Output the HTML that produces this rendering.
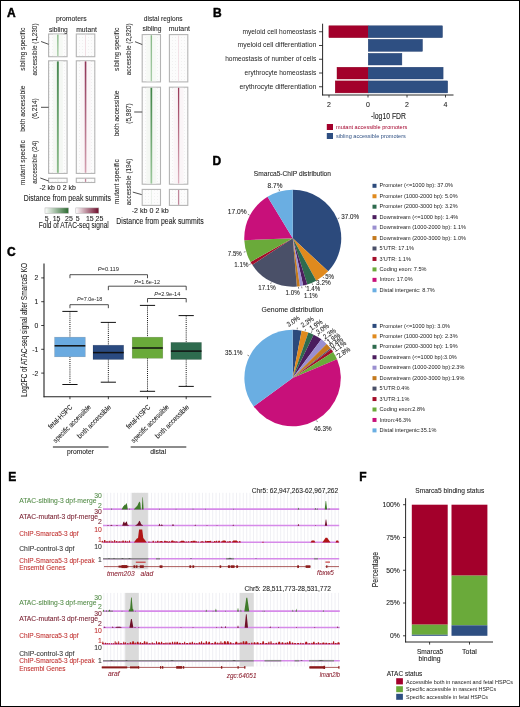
<!DOCTYPE html>
<html><head><meta charset="utf-8"><style>
html,body{margin:0;padding:0;background:#fff;}
svg{display:block;will-change:transform;}
text{font-family:"Liberation Sans", sans-serif;}
</style></head><body>
<svg width="520" height="707" viewBox="0 0 520 707">
<rect x="0" y="0" width="520" height="707" fill="#fff"/>
<text x="0" y="0" transform="translate(6.90 16.70)" font-size="12" fill="#000" font-weight="bold" stroke="#000" stroke-width="0.45" >A</text>
<text x="0" y="0" transform="translate(213.00 17.20)" font-size="12" fill="#000" font-weight="bold" stroke="#000" stroke-width="0.45" >B</text>
<text x="0" y="0" transform="translate(7.00 256.20)" font-size="12" fill="#000" font-weight="bold" stroke="#000" stroke-width="0.45" >C</text>
<text x="0" y="0" transform="translate(212.60 164.80)" font-size="12" fill="#000" font-weight="bold" stroke="#000" stroke-width="0.45" >D</text>
<text x="0" y="0" transform="translate(8.30 481.30)" font-size="12" fill="#000" font-weight="bold" stroke="#000" stroke-width="0.45" >E</text>
<text x="0" y="0" transform="translate(359.30 481.20)" font-size="12" fill="#000" font-weight="bold" stroke="#000" stroke-width="0.45" >F</text>
<defs><linearGradient id="gg" x1="0" x2="1"><stop offset="0" stop-color="#ffffff"/><stop offset="1" stop-color="#2b6a2f"/></linearGradient><linearGradient id="rg" x1="0" x2="1"><stop offset="0" stop-color="#ffffff"/><stop offset="1" stop-color="#6e0a2a"/></linearGradient><pattern id="dots" width="3" height="3" patternUnits="userSpaceOnUse"><rect width="3" height="3" fill="#fcfcfc"/><rect x="1" y="1" width="1" height="1" fill="#f1f1f1"/></pattern></defs>
<rect x="48.60" y="34.00" width="18.50" height="22.70" fill="url(#dots)" stroke="#b4b4b4" stroke-width="1.1"/>
<rect x="52.85" y="34.60" width="10" height="21.50" fill="#f6f9f5"/>
<defs><linearGradient id="vg1" x1="0" y1="0" x2="0" y2="1"><stop offset="0" stop-color="#86b886"/><stop offset="1" stop-color="#a8cca8"/></linearGradient></defs>
<rect x="57.15" y="34.60" width="1.40" height="21.50" fill="url(#vg1)"/>
<rect x="76.30" y="34.00" width="18.50" height="22.70" fill="url(#dots)" stroke="#b4b4b4" stroke-width="1.1"/>
<rect x="85.10" y="34.60" width="0.90" height="21.50" fill="#f0dde3"/>
<rect x="48.60" y="60.80" width="18.50" height="112.60" fill="url(#dots)" stroke="#b4b4b4" stroke-width="1.1"/>
<rect x="52.85" y="61.40" width="10" height="111.40" fill="#f4f7f3"/>
<defs><linearGradient id="vg2" x1="0" y1="0" x2="0" y2="1"><stop offset="0" stop-color="#478650"/><stop offset="1" stop-color="#8cbc8c"/></linearGradient></defs>
<rect x="56.90" y="61.40" width="1.90" height="111.40" fill="url(#vg2)"/>
<rect x="76.30" y="60.80" width="18.50" height="112.60" fill="url(#dots)" stroke="#b4b4b4" stroke-width="1.1"/>
<rect x="80.55" y="61.40" width="10" height="111.40" fill="#faf5f7"/>
<defs><linearGradient id="vg3" x1="0" y1="0" x2="0" y2="1"><stop offset="0" stop-color="#8f3355"/><stop offset="1" stop-color="#d3a0b0"/></linearGradient></defs>
<rect x="84.75" y="61.40" width="1.60" height="111.40" fill="url(#vg3)"/>
<rect x="48.60" y="178.20" width="18.50" height="4.30" fill="url(#dots)" stroke="#b4b4b4" stroke-width="1.1"/>
<rect x="57.45" y="178.80" width="0.80" height="3.10" fill="#e4ebe4"/>
<rect x="76.30" y="178.20" width="18.50" height="4.30" fill="url(#dots)" stroke="#b4b4b4" stroke-width="1.1"/>
<rect x="84.90" y="178.80" width="1.30" height="3.10" fill="#c0879b"/>
<rect x="142.20" y="34.60" width="18.30" height="47.30" fill="url(#dots)" stroke="#b4b4b4" stroke-width="1.1"/>
<rect x="146.35" y="35.20" width="10" height="46.10" fill="#f6f9f5"/>
<defs><linearGradient id="vg4" x1="0" y1="0" x2="0" y2="1"><stop offset="0" stop-color="#86b886"/><stop offset="1" stop-color="#a8cca8"/></linearGradient></defs>
<rect x="150.65" y="35.20" width="1.40" height="46.10" fill="url(#vg4)"/>
<rect x="169.40" y="34.60" width="18.40" height="47.30" fill="url(#dots)" stroke="#b4b4b4" stroke-width="1.1"/>
<rect x="178.15" y="35.20" width="0.90" height="46.10" fill="#f0dde3"/>
<rect x="142.20" y="87.20" width="18.30" height="97.00" fill="url(#dots)" stroke="#b4b4b4" stroke-width="1.1"/>
<rect x="146.35" y="87.80" width="10" height="95.80" fill="#f4f7f3"/>
<defs><linearGradient id="vg5" x1="0" y1="0" x2="0" y2="1"><stop offset="0" stop-color="#3f8446"/><stop offset="1" stop-color="#9cc89c"/></linearGradient></defs>
<rect x="150.50" y="87.80" width="1.70" height="95.80" fill="url(#vg5)"/>
<rect x="169.40" y="87.20" width="18.40" height="97.00" fill="url(#dots)" stroke="#b4b4b4" stroke-width="1.1"/>
<rect x="173.60" y="87.80" width="10" height="95.80" fill="#faf5f7"/>
<defs><linearGradient id="vg6" x1="0" y1="0" x2="0" y2="1"><stop offset="0" stop-color="#983a58"/><stop offset="1" stop-color="#dcb0be"/></linearGradient></defs>
<rect x="177.95" y="87.80" width="1.30" height="95.80" fill="url(#vg6)"/>
<rect x="142.20" y="189.40" width="18.30" height="16.00" fill="url(#dots)" stroke="#b4b4b4" stroke-width="1.1"/>
<rect x="150.95" y="190.00" width="0.80" height="14.80" fill="#e4ebe4"/>
<rect x="169.40" y="189.40" width="18.40" height="16.00" fill="url(#dots)" stroke="#b4b4b4" stroke-width="1.1"/>
<rect x="177.95" y="190.00" width="1.30" height="14.80" fill="#c0879b"/>
<text x="0" y="0" transform="translate(71.35 21.00) scale(1.0400 1)" font-size="6.6" fill="#2a2a2a" text-anchor="middle" stroke="#2a2a2a" stroke-width="0.08" >promoters</text>
<text x="0" y="0" transform="translate(58.40 31.50) scale(1.0047 1)" font-size="6.6" fill="#2a2a2a" text-anchor="middle" stroke="#2a2a2a" stroke-width="0.08" >sibling</text>
<text x="0" y="0" transform="translate(86.55 31.50) scale(1.0259 1)" font-size="6.6" fill="#2a2a2a" text-anchor="middle" stroke="#2a2a2a" stroke-width="0.08" >mutant</text>
<text x="0" y="0" transform="translate(163.20 21.00) scale(1.0029 1)" font-size="6.6" fill="#2a2a2a" text-anchor="middle" stroke="#2a2a2a" stroke-width="0.08" >distal regions</text>
<text x="0" y="0" transform="translate(151.90 31.40) scale(1.0154 1)" font-size="6.6" fill="#2a2a2a" text-anchor="middle" stroke="#2a2a2a" stroke-width="0.08" >sibling</text>
<text x="0" y="0" transform="translate(179.35 31.40) scale(1.0457 1)" font-size="6.6" fill="#2a2a2a" text-anchor="middle" stroke="#2a2a2a" stroke-width="0.08" >mutant</text>
<text x="0" y="0" transform="translate(25.10 49.20) rotate(-90) scale(0.9306 1)" font-size="7.2" fill="#2a2a2a" text-anchor="middle" stroke="#2a2a2a" stroke-width="0.08" >sibling specific</text>
<text x="0" y="0" transform="translate(36.60 49.45) rotate(-90) scale(0.8916 1)" font-size="7.2" fill="#2a2a2a" text-anchor="middle" stroke="#2a2a2a" stroke-width="0.08" >accessible (1,230)</text>
<text x="0" y="0" transform="translate(25.10 108.60) rotate(-90) scale(0.9309 1)" font-size="7.2" fill="#2a2a2a" text-anchor="middle" stroke="#2a2a2a" stroke-width="0.08" >both accessible</text>
<text x="0" y="0" transform="translate(36.60 108.60) rotate(-90) scale(0.9117 1)" font-size="7.2" fill="#2a2a2a" text-anchor="middle" stroke="#2a2a2a" stroke-width="0.08" >(6,214)</text>
<text x="0" y="0" transform="translate(25.10 162.70) rotate(-90) scale(0.9371 1)" font-size="7.2" fill="#2a2a2a" text-anchor="middle" stroke="#2a2a2a" stroke-width="0.08" >mutant specific</text>
<text x="0" y="0" transform="translate(36.60 162.25) rotate(-90) scale(0.8942 1)" font-size="7.2" fill="#2a2a2a" text-anchor="middle" stroke="#2a2a2a" stroke-width="0.08" >accessible (24)</text>
<text x="0" y="0" transform="translate(118.90 49.30) rotate(-90) scale(0.9349 1)" font-size="7.2" fill="#2a2a2a" text-anchor="middle" stroke="#2a2a2a" stroke-width="0.08" >sibling specific</text>
<text x="0" y="0" transform="translate(130.50 49.30) rotate(-90) scale(0.8865 1)" font-size="7.2" fill="#2a2a2a" text-anchor="middle" stroke="#2a2a2a" stroke-width="0.08" >accessible (2,920)</text>
<text x="0" y="0" transform="translate(118.90 113.45) rotate(-90) scale(0.9248 1)" font-size="7.2" fill="#2a2a2a" text-anchor="middle" stroke="#2a2a2a" stroke-width="0.08" >both accessible</text>
<text x="0" y="0" transform="translate(130.60 113.50) rotate(-90) scale(0.8942 1)" font-size="7.2" fill="#2a2a2a" text-anchor="middle" stroke="#2a2a2a" stroke-width="0.08" >(5,987)</text>
<text x="0" y="0" transform="translate(119.00 181.75) rotate(-90) scale(0.9392 1)" font-size="7.2" fill="#2a2a2a" text-anchor="middle" stroke="#2a2a2a" stroke-width="0.08" >mutant specific</text>
<text x="0" y="0" transform="translate(130.60 181.95) rotate(-90) scale(0.8870 1)" font-size="7.2" fill="#2a2a2a" text-anchor="middle" stroke="#2a2a2a" stroke-width="0.08" >accessible (194)</text>
<line x1="41.10" y1="41.50" x2="48.60" y2="44.30" stroke="#222" stroke-width="0.8" />
<line x1="41.00" y1="107.30" x2="48.60" y2="107.30" stroke="#222" stroke-width="0.8" />
<line x1="40.30" y1="178.00" x2="48.60" y2="181.00" stroke="#222" stroke-width="0.8" />
<line x1="135.00" y1="41.70" x2="142.20" y2="44.50" stroke="#222" stroke-width="0.8" />
<line x1="134.20" y1="112.00" x2="142.20" y2="112.00" stroke="#222" stroke-width="0.8" />
<line x1="132.80" y1="192.10" x2="141.70" y2="194.60" stroke="#222" stroke-width="0.8" />
<text x="0" y="0" transform="translate(57.60 189.50) scale(0.9952 1)" font-size="7.0" fill="#222" text-anchor="middle" stroke="#222" stroke-width="0.08" >-2 kb 0 2 kb</text>
<text x="0" y="0" transform="translate(150.25 212.60) scale(1.0143 1)" font-size="7.0" fill="#222" text-anchor="middle" stroke="#222" stroke-width="0.08" >-2 kb 0 2 kb</text>
<text x="0" y="0" transform="translate(67.40 200.70) scale(0.8229 1)" font-size="8.4" fill="#222" text-anchor="middle" stroke="#222" stroke-width="0.08" >Distance from peak summits</text>
<text x="0" y="0" transform="translate(160.00 223.50) scale(0.8248 1)" font-size="8.4" fill="#222" text-anchor="middle" stroke="#222" stroke-width="0.08" >Distance from peak summits</text>
<rect x="45.0" y="207.9" width="23.5" height="5.4" fill="url(#gg)" stroke="#b0b0b0" stroke-width="0.5"/>
<rect x="75.8" y="207.9" width="23.0" height="5.4" fill="url(#rg)" stroke="#b0b0b0" stroke-width="0.5"/>
<text x="0" y="0" transform="translate(46.80 220.70)" font-size="7.0" fill="#222" text-anchor="middle" stroke="#222" stroke-width="0.08" >5</text>
<text x="0" y="0" transform="translate(56.60 220.70)" font-size="7.0" fill="#222" text-anchor="middle" stroke="#222" stroke-width="0.08" >15</text>
<text x="0" y="0" transform="translate(69.00 220.70)" font-size="7.0" fill="#222" text-anchor="middle" stroke="#222" stroke-width="0.08" >25</text>
<text x="0" y="0" transform="translate(77.60 220.70)" font-size="7.0" fill="#222" text-anchor="middle" stroke="#222" stroke-width="0.08" >5</text>
<text x="0" y="0" transform="translate(89.80 220.70)" font-size="7.0" fill="#222" text-anchor="middle" stroke="#222" stroke-width="0.08" >15</text>
<text x="0" y="0" transform="translate(99.50 220.70)" font-size="7.0" fill="#222" text-anchor="middle" stroke="#222" stroke-width="0.08" >25</text>
<text x="0" y="0" transform="translate(73.75 227.70) scale(0.7847 1)" font-size="8.4" fill="#222" text-anchor="middle" stroke="#222" stroke-width="0.08" >Fold of ATAC-seq signal</text>
<rect x="328.90" y="25.80" width="39.30" height="11.90" fill="#a3002b" stroke="#8a0022" stroke-width="0.4" />
<rect x="368.20" y="25.80" width="74.30" height="11.90" fill="#2e4f82" stroke="#243f6e" stroke-width="0.4" />
<rect x="368.20" y="39.30" width="54.30" height="12.10" fill="#2e4f82" stroke="#243f6e" stroke-width="0.4" />
<rect x="368.20" y="53.30" width="33.70" height="11.70" fill="#2e4f82" stroke="#243f6e" stroke-width="0.4" />
<rect x="337.00" y="67.20" width="31.20" height="11.80" fill="#a3002b" stroke="#8a0022" stroke-width="0.4" />
<rect x="368.20" y="67.20" width="74.90" height="11.80" fill="#2e4f82" stroke="#243f6e" stroke-width="0.4" />
<rect x="335.20" y="80.90" width="33.00" height="12.00" fill="#a3002b" stroke="#8a0022" stroke-width="0.4" />
<rect x="368.20" y="80.90" width="79.50" height="12.00" fill="#2e4f82" stroke="#243f6e" stroke-width="0.4" />
<line x1="322.60" y1="23.70" x2="322.60" y2="95.40" stroke="#111" stroke-width="0.9" />
<line x1="322.20" y1="95.00" x2="453.50" y2="95.00" stroke="#111" stroke-width="0.9" />
<text x="0" y="0" transform="translate(316.30 33.65) scale(1.0567 1)" font-size="6.3" fill="#222" text-anchor="end" >myeloid cell homeostasis</text>
<line x1="319.00" y1="31.75" x2="322.60" y2="31.75" stroke="#111" stroke-width="0.8" />
<text x="0" y="0" transform="translate(316.30 47.40) scale(1.0888 1)" font-size="6.3" fill="#222" text-anchor="end" >myeloid cell differentiation</text>
<line x1="319.00" y1="45.50" x2="322.60" y2="45.50" stroke="#111" stroke-width="0.8" />
<text x="0" y="0" transform="translate(316.30 61.15) scale(1.0513 1)" font-size="6.3" fill="#222" text-anchor="end" >homeostasis of number of cells</text>
<line x1="319.00" y1="59.25" x2="322.60" y2="59.25" stroke="#111" stroke-width="0.8" />
<text x="0" y="0" transform="translate(316.30 74.90) scale(1.0515 1)" font-size="6.3" fill="#222" text-anchor="end" >erythrocyte homeostasis</text>
<line x1="319.00" y1="73.00" x2="322.60" y2="73.00" stroke="#111" stroke-width="0.8" />
<text x="0" y="0" transform="translate(316.30 88.65) scale(1.0903 1)" font-size="6.3" fill="#222" text-anchor="end" >erythrocyte differentiation</text>
<line x1="319.00" y1="86.75" x2="322.60" y2="86.75" stroke="#111" stroke-width="0.8" />
<line x1="329.00" y1="95.00" x2="329.00" y2="97.50" stroke="#111" stroke-width="0.8" />
<text x="0" y="0" transform="translate(329.00 106.90)" font-size="7.0" fill="#222" text-anchor="middle" stroke="#222" stroke-width="0.08" >2</text>
<line x1="368.00" y1="95.00" x2="368.00" y2="97.50" stroke="#111" stroke-width="0.8" />
<text x="0" y="0" transform="translate(368.00 106.90)" font-size="7.0" fill="#222" text-anchor="middle" stroke="#222" stroke-width="0.08" >0</text>
<line x1="407.00" y1="95.00" x2="407.00" y2="97.50" stroke="#111" stroke-width="0.8" />
<text x="0" y="0" transform="translate(407.00 106.90)" font-size="7.0" fill="#222" text-anchor="middle" stroke="#222" stroke-width="0.08" >2</text>
<line x1="445.50" y1="95.00" x2="445.50" y2="97.50" stroke="#111" stroke-width="0.8" />
<text x="0" y="0" transform="translate(445.50 106.90)" font-size="7.0" fill="#222" text-anchor="middle" stroke="#222" stroke-width="0.08" >4</text>
<text x="0" y="0" transform="translate(388.50 118.90) scale(0.7960 1)" font-size="8.6" fill="#222" text-anchor="middle" stroke="#222" stroke-width="0.08" >-log10 FDR</text>
<rect x="326.80" y="124.00" width="6.20" height="6.00" fill="#a3002b" />
<rect x="326.80" y="133.00" width="6.20" height="6.00" fill="#2e4f82" />
<text x="0" y="0" transform="translate(336.00 129.30) scale(0.9643 1)" font-size="5.8" fill="#a3002b" >mutant accessible promoters</text>
<text x="0" y="0" transform="translate(336.00 138.30) scale(0.9608 1)" font-size="5.8" fill="#2e4f82" >sibling accessible promoters</text>
<line x1="44.00" y1="263.50" x2="44.00" y2="397.20" stroke="#222" stroke-width="1.1" />
<line x1="43.60" y1="396.70" x2="211.30" y2="396.70" stroke="#222" stroke-width="1.15" />
<line x1="41.20" y1="277.90" x2="44.00" y2="277.90" stroke="#111" stroke-width="0.8" />
<text x="0" y="0" transform="translate(38.40 280.30)" font-size="6.8" fill="#222" text-anchor="end" stroke="#222" stroke-width="0.08" >2</text>
<line x1="41.20" y1="301.70" x2="44.00" y2="301.70" stroke="#111" stroke-width="0.8" />
<text x="0" y="0" transform="translate(38.40 304.10)" font-size="6.8" fill="#222" text-anchor="end" stroke="#222" stroke-width="0.08" >1</text>
<line x1="41.20" y1="325.50" x2="44.00" y2="325.50" stroke="#111" stroke-width="0.8" />
<text x="0" y="0" transform="translate(38.40 327.90)" font-size="6.8" fill="#222" text-anchor="end" stroke="#222" stroke-width="0.08" >0</text>
<line x1="41.20" y1="349.30" x2="44.00" y2="349.30" stroke="#111" stroke-width="0.8" />
<text x="0" y="0" transform="translate(38.40 351.70)" font-size="6.8" fill="#222" text-anchor="end" stroke="#222" stroke-width="0.08" >-1</text>
<line x1="41.20" y1="373.10" x2="44.00" y2="373.10" stroke="#111" stroke-width="0.8" />
<text x="0" y="0" transform="translate(38.40 375.50)" font-size="6.8" fill="#222" text-anchor="end" stroke="#222" stroke-width="0.08" >-2</text>
<text x="0" y="0" transform="translate(27.10 329.90) rotate(-90) scale(0.6820 1)" font-size="9.6" fill="#222" text-anchor="middle" stroke="#222" stroke-width="0.08" >Log2FC of ATAC-seq signal after Smarca5 KO</text>
<line x1="69.95" y1="311.40" x2="69.95" y2="337.20" stroke="#111" stroke-width="1.0" stroke-dasharray="1,1.1"/>
<line x1="69.95" y1="356.80" x2="69.95" y2="384.50" stroke="#111" stroke-width="1.0" stroke-dasharray="1,1.1"/>
<line x1="62.35" y1="311.40" x2="77.55" y2="311.40" stroke="#111" stroke-width="1.0" />
<line x1="62.35" y1="384.50" x2="77.55" y2="384.50" stroke="#111" stroke-width="1.0" />
<rect x="54.60" y="337.20" width="30.70" height="19.60" fill="#6aaae0" stroke="#00000030" stroke-width="0.6" />
<line x1="54.60" y1="345.80" x2="85.30" y2="345.80" stroke="#111" stroke-width="1.5" />
<line x1="69.95" y1="396.50" x2="69.95" y2="399.20" stroke="#111" stroke-width="0.8" />
<line x1="108.35" y1="322.40" x2="108.35" y2="345.20" stroke="#111" stroke-width="1.0" stroke-dasharray="1,1.1"/>
<line x1="108.35" y1="359.50" x2="108.35" y2="382.20" stroke="#111" stroke-width="1.0" stroke-dasharray="1,1.1"/>
<line x1="100.75" y1="322.40" x2="115.95" y2="322.40" stroke="#111" stroke-width="1.0" />
<line x1="100.75" y1="382.20" x2="115.95" y2="382.20" stroke="#111" stroke-width="1.0" />
<rect x="93.00" y="345.20" width="30.70" height="14.30" fill="#2a4a80" stroke="#00000030" stroke-width="0.6" />
<line x1="93.00" y1="352.60" x2="123.70" y2="352.60" stroke="#111" stroke-width="1.5" />
<line x1="108.35" y1="396.50" x2="108.35" y2="399.20" stroke="#111" stroke-width="0.8" />
<line x1="147.50" y1="305.40" x2="147.50" y2="337.20" stroke="#111" stroke-width="1.0" stroke-dasharray="1,1.1"/>
<line x1="147.50" y1="358.30" x2="147.50" y2="391.30" stroke="#111" stroke-width="1.0" stroke-dasharray="1,1.1"/>
<line x1="139.90" y1="305.40" x2="155.10" y2="305.40" stroke="#111" stroke-width="1.0" />
<line x1="139.90" y1="391.30" x2="155.10" y2="391.30" stroke="#111" stroke-width="1.0" />
<rect x="132.20" y="337.20" width="30.60" height="21.10" fill="#6aaa3a" stroke="#00000030" stroke-width="0.6" />
<line x1="132.20" y1="348.00" x2="162.80" y2="348.00" stroke="#111" stroke-width="1.5" />
<line x1="147.50" y1="396.50" x2="147.50" y2="399.20" stroke="#111" stroke-width="0.8" />
<line x1="186.20" y1="315.60" x2="186.20" y2="342.40" stroke="#111" stroke-width="1.0" stroke-dasharray="1,1.1"/>
<line x1="186.20" y1="359.50" x2="186.20" y2="386.40" stroke="#111" stroke-width="1.0" stroke-dasharray="1,1.1"/>
<line x1="178.60" y1="315.60" x2="193.80" y2="315.60" stroke="#111" stroke-width="1.0" />
<line x1="178.60" y1="386.40" x2="193.80" y2="386.40" stroke="#111" stroke-width="1.0" />
<rect x="170.90" y="342.40" width="30.60" height="17.10" fill="#2e6b4e" stroke="#00000030" stroke-width="0.6" />
<line x1="170.90" y1="351.10" x2="201.50" y2="351.10" stroke="#111" stroke-width="1.5" />
<line x1="186.20" y1="396.50" x2="186.20" y2="399.20" stroke="#111" stroke-width="0.8" />
<path d="M69.95,278.20 V274.70 H147.50 V278.20" fill="none" stroke="#222" stroke-width="0.8"/>
<text x="0" y="0" transform="translate(108.30 271.20) scale(1.0289 1)" font-size="5.6" fill="#222" text-anchor="middle" ><tspan font-style="italic">P</tspan>=0.119</text>
<path d="M108.35,290.20 V286.20 H186.20 V290.20" fill="none" stroke="#222" stroke-width="0.8"/>
<text x="0" y="0" transform="translate(147.10 283.50) scale(0.9923 1)" font-size="5.6" fill="#222" text-anchor="middle" ><tspan font-style="italic">P</tspan>=1.6e-12</text>
<path d="M147.50,302.40 V298.50 H186.20 V302.40" fill="none" stroke="#222" stroke-width="0.8"/>
<text x="0" y="0" transform="translate(167.25 295.50) scale(1.0039 1)" font-size="5.6" fill="#222" text-anchor="middle" ><tspan font-style="italic">P</tspan>=2.9e-14</text>
<path d="M69.95,308.20 V304.70 H108.35 V308.20" fill="none" stroke="#222" stroke-width="0.8"/>
<text x="0" y="0" transform="translate(89.60 300.80) scale(0.9769 1)" font-size="5.6" fill="#222" text-anchor="middle" ><tspan font-style="italic">P</tspan>=7.0e-18</text>
<text x="0" y="0" transform="translate(72.90 407.60) rotate(-45) scale(0.8608 1)" font-size="7.2" fill="#222" text-anchor="end" stroke="#222" stroke-width="0.08" >fetal-HSPC</text>
<text x="0" y="0" transform="translate(91.50 407.60) rotate(-45) scale(0.8469 1)" font-size="7.2" fill="#222" text-anchor="end" stroke="#222" stroke-width="0.08" >specific accessible</text>
<text x="0" y="0" transform="translate(111.50 407.60) rotate(-45) scale(0.8966 1)" font-size="7.2" fill="#222" text-anchor="end" stroke="#222" stroke-width="0.08" >both accessible</text>
<text x="0" y="0" transform="translate(150.90 407.60) rotate(-45) scale(0.8608 1)" font-size="7.2" fill="#222" text-anchor="end" stroke="#222" stroke-width="0.08" >fetal-HSPC</text>
<text x="0" y="0" transform="translate(169.50 407.60) rotate(-45) scale(0.8469 1)" font-size="7.2" fill="#222" text-anchor="end" stroke="#222" stroke-width="0.08" >specific accessible</text>
<text x="0" y="0" transform="translate(189.50 407.60) rotate(-45) scale(0.8966 1)" font-size="7.2" fill="#222" text-anchor="end" stroke="#222" stroke-width="0.08" >both accessible</text>
<line x1="52.90" y1="446.90" x2="108.50" y2="446.90" stroke="#666" stroke-width="1.5" />
<line x1="130.70" y1="446.90" x2="186.30" y2="446.90" stroke="#666" stroke-width="1.5" />
<text x="0" y="0" transform="translate(80.40 454.00) scale(0.9639 1)" font-size="7.0" fill="#222" text-anchor="middle" stroke="#222" stroke-width="0.08" >promoter</text>
<text x="0" y="0" transform="translate(158.20 454.00) scale(0.9791 1)" font-size="7.0" fill="#222" text-anchor="middle" stroke="#222" stroke-width="0.08" >distal</text>
<path d="M292.75,238.20 L292.75,189.70 A48.5,48.5 0 0 1 328.18,271.32 Z" fill="#2c4a7c"/>
<path d="M292.75,238.20 L328.18,271.32 A48.5,48.5 0 0 1 316.23,280.64 Z" fill="#e08a1e"/>
<path d="M292.75,238.20 L316.23,280.64 A48.5,48.5 0 0 1 307.29,284.47 Z" fill="#2e6b4e"/>
<path d="M292.75,238.20 L307.29,284.47 A48.5,48.5 0 0 1 303.17,285.57 Z" fill="#4b1d5e"/>
<path d="M292.75,238.20 L303.17,285.57 A48.5,48.5 0 0 1 299.88,286.17 Z" fill="#9a8fd0"/>
<path d="M292.75,238.20 L299.88,286.17 A48.5,48.5 0 0 1 296.85,286.53 Z" fill="#c47a1e"/>
<path d="M292.75,238.20 L296.85,286.53 A48.5,48.5 0 0 1 252.24,264.87 Z" fill="#4a5068"/>
<path d="M292.75,238.20 L252.24,264.87 A48.5,48.5 0 0 1 250.50,262.01 Z" fill="#a30e2a"/>
<path d="M292.75,238.20 L250.50,262.01 A48.5,48.5 0 0 1 244.29,240.25 Z" fill="#6aaa3a"/>
<path d="M292.75,238.20 L244.29,240.25 A48.5,48.5 0 0 1 267.56,196.75 Z" fill="#c8107a"/>
<path d="M292.75,238.20 L267.56,196.75 A48.5,48.5 0 0 1 292.75,189.70 Z" fill="#6aaee2"/>
<path d="M292.60,378.00 L292.60,329.80 A48.2,48.2 0 0 1 301.62,330.65 Z" fill="#2c4a7c"/>
<path d="M292.60,378.00 L301.62,330.65 A48.2,48.2 0 0 1 308.34,332.44 Z" fill="#e08a1e"/>
<path d="M292.60,378.00 L308.34,332.44 A48.2,48.2 0 0 1 313.65,334.64 Z" fill="#2e6b4e"/>
<path d="M292.60,378.00 L313.65,334.64 A48.2,48.2 0 0 1 321.39,339.35 Z" fill="#4b1d5e"/>
<path d="M292.60,378.00 L321.39,339.35 A48.2,48.2 0 0 1 326.66,343.89 Z" fill="#9a8fd0"/>
<path d="M292.60,378.00 L326.66,343.89 A48.2,48.2 0 0 1 330.47,348.18 Z" fill="#c47a1e"/>
<path d="M292.60,378.00 L330.47,348.18 A48.2,48.2 0 0 1 331.21,349.15 Z" fill="#4a5068"/>
<path d="M292.60,378.00 L331.21,349.15 A48.2,48.2 0 0 1 333.11,351.88 Z" fill="#a30e2a"/>
<path d="M292.60,378.00 L333.11,351.88 A48.2,48.2 0 0 1 337.05,359.36 Z" fill="#6aaa3a"/>
<path d="M292.60,378.00 L337.05,359.36 A48.2,48.2 0 0 1 253.72,406.49 Z" fill="#c8107a"/>
<path d="M292.60,378.00 L253.72,406.49 A48.2,48.2 0 0 1 292.60,329.80 Z" fill="#6aaee2"/>
<line x1="337.79" y1="218.65" x2="339.44" y2="217.93" stroke="#333" stroke-width="0.6" />
<line x1="322.94" y1="276.92" x2="324.05" y2="278.34" stroke="#333" stroke-width="0.6" />
<line x1="312.09" y1="283.33" x2="312.80" y2="284.99" stroke="#333" stroke-width="0.6" />
<line x1="305.40" y1="285.64" x2="305.86" y2="287.38" stroke="#333" stroke-width="0.6" />
<line x1="301.64" y1="286.49" x2="301.96" y2="288.26" stroke="#333" stroke-width="0.6" />
<line x1="298.44" y1="286.97" x2="298.65" y2="288.76" stroke="#333" stroke-width="0.6" />
<line x1="271.31" y1="282.37" x2="270.52" y2="283.99" stroke="#333" stroke-width="0.6" />
<line x1="250.83" y1="263.77" x2="249.29" y2="264.70" stroke="#333" stroke-width="0.6" />
<line x1="245.53" y1="251.66" x2="243.80" y2="252.16" stroke="#333" stroke-width="0.6" />
<line x1="249.45" y1="215.04" x2="247.87" y2="214.19" stroke="#333" stroke-width="0.6" />
<line x1="279.51" y1="190.92" x2="279.02" y2="189.19" stroke="#333" stroke-width="0.6" />
<line x1="297.19" y1="329.42" x2="297.36" y2="327.62" stroke="#333" stroke-width="0.6" />
<line x1="305.17" y1="330.85" x2="305.63" y2="329.11" stroke="#333" stroke-width="0.6" />
<line x1="311.26" y1="332.91" x2="311.95" y2="331.24" stroke="#333" stroke-width="0.6" />
<line x1="317.94" y1="336.30" x2="318.88" y2="334.76" stroke="#333" stroke-width="0.6" />
<line x1="324.50" y1="341.07" x2="325.68" y2="339.71" stroke="#333" stroke-width="0.6" />
<line x1="329.08" y1="345.58" x2="330.42" y2="344.39" stroke="#333" stroke-width="0.6" />
<line x1="331.32" y1="348.30" x2="332.75" y2="347.20" stroke="#333" stroke-width="0.6" />
<line x1="332.67" y1="350.15" x2="334.15" y2="349.13" stroke="#333" stroke-width="0.6" />
<line x1="335.77" y1="355.25" x2="337.37" y2="354.41" stroke="#333" stroke-width="0.6" />
<line x1="316.62" y1="420.48" x2="317.51" y2="422.04" stroke="#333" stroke-width="0.6" />
<line x1="249.07" y1="355.93" x2="247.47" y2="355.12" stroke="#333" stroke-width="0.6" />
<text x="0" y="0" transform="translate(292.40 176.20) scale(0.9887 1)" font-size="6.7" fill="#222" text-anchor="middle" stroke="#222" stroke-width="0.08" >Smarca5-ChIP distribution</text>
<text x="0" y="0" transform="translate(292.50 311.60) scale(1.0340 1)" font-size="6.7" fill="#222" text-anchor="middle" stroke="#222" stroke-width="0.08" >Genome distribution</text>
<text x="0" y="0" transform="translate(350.10 219.10) scale(0.9512 1)" font-size="6.6" fill="#222" text-anchor="middle" stroke="#222" stroke-width="0.08" >37.0%</text>
<text x="0" y="0" transform="translate(275.00 187.80) scale(0.9838 1)" font-size="6.6" fill="#222" text-anchor="middle" stroke="#222" stroke-width="0.08" >8.7%</text>
<text x="0" y="0" transform="translate(237.25 213.50) scale(1.0099 1)" font-size="6.6" fill="#222" text-anchor="middle" stroke="#222" stroke-width="0.08" >17.0%</text>
<text x="0" y="0" transform="translate(234.80 255.70) scale(0.9306 1)" font-size="6.6" fill="#222" text-anchor="middle" stroke="#222" stroke-width="0.08" >7.5%</text>
<text x="0" y="0" transform="translate(241.35 267.10) scale(0.9373 1)" font-size="6.6" fill="#222" text-anchor="middle" stroke="#222" stroke-width="0.08" >1.1%</text>
<text x="0" y="0" transform="translate(267.00 290.00) scale(0.9405 1)" font-size="6.6" fill="#222" text-anchor="middle" stroke="#222" stroke-width="0.08" >17.1%</text>
<text x="0" y="0" transform="translate(292.65 294.90) scale(0.9373 1)" font-size="6.6" fill="#222" text-anchor="middle" stroke="#222" stroke-width="0.08" >1.0%</text>
<text x="0" y="0" transform="translate(310.75 297.50) scale(0.9107 1)" font-size="6.6" fill="#222" text-anchor="middle" stroke="#222" stroke-width="0.08" >1.1%</text>
<text x="0" y="0" transform="translate(313.25 291.00) scale(0.9373 1)" font-size="6.6" fill="#222" text-anchor="middle" stroke="#222" stroke-width="0.08" >1.4%</text>
<text x="0" y="0" transform="translate(323.35 285.40) scale(0.9772 1)" font-size="6.6" fill="#222" text-anchor="middle" stroke="#222" stroke-width="0.08" >3.2%</text>
<text x="0" y="0" transform="translate(329.60 278.90) scale(0.9225 1)" font-size="6.6" fill="#222" text-anchor="middle" stroke="#222" stroke-width="0.08" >5%</text>
<text x="0" y="0" transform="translate(233.75 354.80) scale(0.9351 1)" font-size="6.6" fill="#222" text-anchor="middle" stroke="#222" stroke-width="0.08" >35.1%</text>
<text x="0" y="0" transform="translate(322.70 430.70) scale(0.9618 1)" font-size="6.6" fill="#222" text-anchor="middle" stroke="#222" stroke-width="0.08" >46.3%</text>
<text x="0" y="0" transform="translate(288.80 327.00) rotate(-34) scale(0.8775 1)" font-size="7.0" fill="#222" stroke="#222" stroke-width="0.08" >3.0%</text>
<text x="0" y="0" transform="translate(302.70 327.80) rotate(-34) scale(0.8775 1)" font-size="7.0" fill="#222" stroke="#222" stroke-width="0.08" >2.3%</text>
<text x="0" y="0" transform="translate(311.40 330.80) rotate(-34) scale(0.8775 1)" font-size="7.0" fill="#222" stroke="#222" stroke-width="0.08" >1.9%</text>
<text x="0" y="0" transform="translate(318.00 334.80) rotate(-34) scale(0.8775 1)" font-size="7.0" fill="#222" stroke="#222" stroke-width="0.08" >3.0%</text>
<text x="0" y="0" transform="translate(324.90 339.50) rotate(-34) scale(0.8775 1)" font-size="7.0" fill="#222" stroke="#222" stroke-width="0.08" >2.3%</text>
<text x="0" y="0" transform="translate(329.10 344.30) rotate(-34) scale(0.8775 1)" font-size="7.0" fill="#222" stroke="#222" stroke-width="0.08" >1.9%</text>
<text x="0" y="0" transform="translate(332.00 348.30) rotate(-34) scale(0.8775 1)" font-size="7.0" fill="#222" stroke="#222" stroke-width="0.08" >0.4%</text>
<text x="0" y="0" transform="translate(335.20 352.00) rotate(-34) scale(0.8775 1)" font-size="7.0" fill="#222" stroke="#222" stroke-width="0.08" >1.1%</text>
<text x="0" y="0" transform="translate(339.20 358.20) rotate(-34) scale(0.8775 1)" font-size="7.0" fill="#222" stroke="#222" stroke-width="0.08" >2.8%</text>
<rect x="372.50" y="183.80" width="4.00" height="4.00" fill="#2c4a7c" />
<text x="0" y="0" transform="translate(379.60 187.40)" font-size="5.56" fill="#222" >Promoter (&lt;=1000 bp): 37.0%</text>
<rect x="372.50" y="194.25" width="4.00" height="4.00" fill="#e08a1e" />
<text x="0" y="0" transform="translate(379.60 197.85)" font-size="5.56" fill="#222" >Promoter (1000-2000 bp): 5.0%</text>
<rect x="372.50" y="204.70" width="4.00" height="4.00" fill="#2e6b4e" />
<text x="0" y="0" transform="translate(379.60 208.30)" font-size="5.56" fill="#222" >Promoter (2000-3000 bp): 3.2%</text>
<rect x="372.50" y="215.15" width="4.00" height="4.00" fill="#4b1d5e" />
<text x="0" y="0" transform="translate(379.60 218.75)" font-size="5.56" fill="#222" >Downstream (&lt;=1000 bp): 1.4%</text>
<rect x="372.50" y="225.60" width="4.00" height="4.00" fill="#9a8fd0" />
<text x="0" y="0" transform="translate(379.60 229.20)" font-size="5.56" fill="#222" >Downstream (1000-2000 bp): 1.1%</text>
<rect x="372.50" y="236.05" width="4.00" height="4.00" fill="#c47a1e" />
<text x="0" y="0" transform="translate(379.60 239.65)" font-size="5.56" fill="#222" >Downstream (2000-3000 bp): 1.0%</text>
<rect x="372.50" y="246.50" width="4.00" height="4.00" fill="#4a5068" />
<text x="0" y="0" transform="translate(379.60 250.10)" font-size="5.56" fill="#222" >5'UTR: 17.1%</text>
<rect x="372.50" y="256.95" width="4.00" height="4.00" fill="#a30e2a" />
<text x="0" y="0" transform="translate(379.60 260.55)" font-size="5.56" fill="#222" >3'UTR: 1.1%</text>
<rect x="372.50" y="267.40" width="4.00" height="4.00" fill="#6aaa3a" />
<text x="0" y="0" transform="translate(379.60 271.00)" font-size="5.56" fill="#222" >Coding exon: 7.5%</text>
<rect x="372.50" y="277.85" width="4.00" height="4.00" fill="#c8107a" />
<text x="0" y="0" transform="translate(379.60 281.45)" font-size="5.56" fill="#222" >Intron: 17.0%</text>
<rect x="372.50" y="288.30" width="4.00" height="4.00" fill="#6aaee2" />
<text x="0" y="0" transform="translate(379.60 291.90)" font-size="5.56" fill="#222" >Distal intergenic: 8.7%</text>
<rect x="372.50" y="323.90" width="4.00" height="4.00" fill="#2c4a7c" />
<text x="0" y="0" transform="translate(379.60 327.50)" font-size="5.56" fill="#222" >Promoter (&lt;=1000 bp): 3.0%</text>
<rect x="372.50" y="334.35" width="4.00" height="4.00" fill="#e08a1e" />
<text x="0" y="0" transform="translate(379.60 337.95)" font-size="5.56" fill="#222" >Promoter (1000-2000 bp): 2.3%</text>
<rect x="372.50" y="344.80" width="4.00" height="4.00" fill="#2e6b4e" />
<text x="0" y="0" transform="translate(379.60 348.40)" font-size="5.56" fill="#222" >Promoter (2000-3000 bp): 1.9%</text>
<rect x="372.50" y="355.25" width="4.00" height="4.00" fill="#4b1d5e" />
<text x="0" y="0" transform="translate(379.60 358.85)" font-size="5.56" fill="#222" >Downstream (&lt;=1000 bp):3.0%</text>
<rect x="372.50" y="365.70" width="4.00" height="4.00" fill="#9a8fd0" />
<text x="0" y="0" transform="translate(379.60 369.30)" font-size="5.56" fill="#222" >Downstream (1000-2000 bp):2.3%</text>
<rect x="372.50" y="376.15" width="4.00" height="4.00" fill="#c47a1e" />
<text x="0" y="0" transform="translate(379.60 379.75)" font-size="5.56" fill="#222" >Downstream (2000-3000 bp):1.9%</text>
<rect x="372.50" y="386.60" width="4.00" height="4.00" fill="#4a5068" />
<text x="0" y="0" transform="translate(379.60 390.20)" font-size="5.56" fill="#222" >5'UTR:0.4%</text>
<rect x="372.50" y="397.05" width="4.00" height="4.00" fill="#a30e2a" />
<text x="0" y="0" transform="translate(379.60 400.65)" font-size="5.56" fill="#222" >3'UTR:1.1%</text>
<rect x="372.50" y="407.50" width="4.00" height="4.00" fill="#6aaa3a" />
<text x="0" y="0" transform="translate(379.60 411.10)" font-size="5.56" fill="#222" >Coding exon:2.8%</text>
<rect x="372.50" y="417.95" width="4.00" height="4.00" fill="#c8107a" />
<text x="0" y="0" transform="translate(379.60 421.55)" font-size="5.56" fill="#222" >Intron:46.3%</text>
<rect x="372.50" y="428.40" width="4.00" height="4.00" fill="#6aaee2" />
<text x="0" y="0" transform="translate(379.60 432.00)" font-size="5.56" fill="#222" >Distal intergenic:35.1%</text>
<line x1="103.90" y1="492.80" x2="103.90" y2="569.30" stroke="#eeeef3" stroke-width="0.9" />
<line x1="107.30" y1="492.80" x2="107.30" y2="569.30" stroke="#eeeef3" stroke-width="0.9" />
<line x1="110.70" y1="492.80" x2="110.70" y2="569.30" stroke="#eeeef3" stroke-width="0.9" />
<line x1="114.10" y1="492.80" x2="114.10" y2="569.30" stroke="#eeeef3" stroke-width="0.9" />
<line x1="117.50" y1="492.80" x2="117.50" y2="569.30" stroke="#eeeef3" stroke-width="0.9" />
<line x1="120.90" y1="492.80" x2="120.90" y2="569.30" stroke="#eeeef3" stroke-width="0.9" />
<line x1="124.30" y1="492.80" x2="124.30" y2="569.30" stroke="#eeeef3" stroke-width="0.9" />
<line x1="127.70" y1="492.80" x2="127.70" y2="569.30" stroke="#eeeef3" stroke-width="0.9" />
<line x1="131.10" y1="492.80" x2="131.10" y2="569.30" stroke="#eeeef3" stroke-width="0.9" />
<line x1="134.50" y1="492.80" x2="134.50" y2="569.30" stroke="#eeeef3" stroke-width="0.9" />
<line x1="137.90" y1="492.80" x2="137.90" y2="569.30" stroke="#eeeef3" stroke-width="0.9" />
<line x1="141.30" y1="492.80" x2="141.30" y2="569.30" stroke="#eeeef3" stroke-width="0.9" />
<line x1="144.70" y1="492.80" x2="144.70" y2="569.30" stroke="#eeeef3" stroke-width="0.9" />
<line x1="148.10" y1="492.80" x2="148.10" y2="569.30" stroke="#eeeef3" stroke-width="0.9" />
<line x1="151.50" y1="492.80" x2="151.50" y2="569.30" stroke="#eeeef3" stroke-width="0.9" />
<line x1="154.90" y1="492.80" x2="154.90" y2="569.30" stroke="#eeeef3" stroke-width="0.9" />
<line x1="158.30" y1="492.80" x2="158.30" y2="569.30" stroke="#eeeef3" stroke-width="0.9" />
<line x1="161.70" y1="492.80" x2="161.70" y2="569.30" stroke="#eeeef3" stroke-width="0.9" />
<line x1="165.10" y1="492.80" x2="165.10" y2="569.30" stroke="#eeeef3" stroke-width="0.9" />
<line x1="168.50" y1="492.80" x2="168.50" y2="569.30" stroke="#eeeef3" stroke-width="0.9" />
<line x1="171.90" y1="492.80" x2="171.90" y2="569.30" stroke="#eeeef3" stroke-width="0.9" />
<line x1="175.30" y1="492.80" x2="175.30" y2="569.30" stroke="#eeeef3" stroke-width="0.9" />
<line x1="178.70" y1="492.80" x2="178.70" y2="569.30" stroke="#eeeef3" stroke-width="0.9" />
<line x1="182.10" y1="492.80" x2="182.10" y2="569.30" stroke="#eeeef3" stroke-width="0.9" />
<line x1="185.50" y1="492.80" x2="185.50" y2="569.30" stroke="#eeeef3" stroke-width="0.9" />
<line x1="188.90" y1="492.80" x2="188.90" y2="569.30" stroke="#eeeef3" stroke-width="0.9" />
<line x1="192.30" y1="492.80" x2="192.30" y2="569.30" stroke="#eeeef3" stroke-width="0.9" />
<line x1="195.70" y1="492.80" x2="195.70" y2="569.30" stroke="#eeeef3" stroke-width="0.9" />
<line x1="199.10" y1="492.80" x2="199.10" y2="569.30" stroke="#eeeef3" stroke-width="0.9" />
<line x1="202.50" y1="492.80" x2="202.50" y2="569.30" stroke="#eeeef3" stroke-width="0.9" />
<line x1="205.90" y1="492.80" x2="205.90" y2="569.30" stroke="#eeeef3" stroke-width="0.9" />
<line x1="209.30" y1="492.80" x2="209.30" y2="569.30" stroke="#eeeef3" stroke-width="0.9" />
<line x1="212.70" y1="492.80" x2="212.70" y2="569.30" stroke="#eeeef3" stroke-width="0.9" />
<line x1="216.10" y1="492.80" x2="216.10" y2="569.30" stroke="#eeeef3" stroke-width="0.9" />
<line x1="219.50" y1="492.80" x2="219.50" y2="569.30" stroke="#eeeef3" stroke-width="0.9" />
<line x1="222.90" y1="492.80" x2="222.90" y2="569.30" stroke="#eeeef3" stroke-width="0.9" />
<line x1="226.30" y1="492.80" x2="226.30" y2="569.30" stroke="#eeeef3" stroke-width="0.9" />
<line x1="229.70" y1="492.80" x2="229.70" y2="569.30" stroke="#eeeef3" stroke-width="0.9" />
<line x1="233.10" y1="492.80" x2="233.10" y2="569.30" stroke="#eeeef3" stroke-width="0.9" />
<line x1="236.50" y1="492.80" x2="236.50" y2="569.30" stroke="#eeeef3" stroke-width="0.9" />
<line x1="239.90" y1="492.80" x2="239.90" y2="569.30" stroke="#eeeef3" stroke-width="0.9" />
<line x1="243.30" y1="492.80" x2="243.30" y2="569.30" stroke="#eeeef3" stroke-width="0.9" />
<line x1="246.70" y1="492.80" x2="246.70" y2="569.30" stroke="#eeeef3" stroke-width="0.9" />
<line x1="250.10" y1="492.80" x2="250.10" y2="569.30" stroke="#eeeef3" stroke-width="0.9" />
<line x1="253.50" y1="492.80" x2="253.50" y2="569.30" stroke="#eeeef3" stroke-width="0.9" />
<line x1="256.90" y1="492.80" x2="256.90" y2="569.30" stroke="#eeeef3" stroke-width="0.9" />
<line x1="260.30" y1="492.80" x2="260.30" y2="569.30" stroke="#eeeef3" stroke-width="0.9" />
<line x1="263.70" y1="492.80" x2="263.70" y2="569.30" stroke="#eeeef3" stroke-width="0.9" />
<line x1="267.10" y1="492.80" x2="267.10" y2="569.30" stroke="#eeeef3" stroke-width="0.9" />
<line x1="270.50" y1="492.80" x2="270.50" y2="569.30" stroke="#eeeef3" stroke-width="0.9" />
<line x1="273.90" y1="492.80" x2="273.90" y2="569.30" stroke="#eeeef3" stroke-width="0.9" />
<line x1="277.30" y1="492.80" x2="277.30" y2="569.30" stroke="#eeeef3" stroke-width="0.9" />
<line x1="280.70" y1="492.80" x2="280.70" y2="569.30" stroke="#eeeef3" stroke-width="0.9" />
<line x1="284.10" y1="492.80" x2="284.10" y2="569.30" stroke="#eeeef3" stroke-width="0.9" />
<line x1="287.50" y1="492.80" x2="287.50" y2="569.30" stroke="#eeeef3" stroke-width="0.9" />
<line x1="290.90" y1="492.80" x2="290.90" y2="569.30" stroke="#eeeef3" stroke-width="0.9" />
<line x1="294.30" y1="492.80" x2="294.30" y2="569.30" stroke="#eeeef3" stroke-width="0.9" />
<line x1="297.70" y1="492.80" x2="297.70" y2="569.30" stroke="#eeeef3" stroke-width="0.9" />
<line x1="301.10" y1="492.80" x2="301.10" y2="569.30" stroke="#eeeef3" stroke-width="0.9" />
<line x1="304.50" y1="492.80" x2="304.50" y2="569.30" stroke="#eeeef3" stroke-width="0.9" />
<line x1="307.90" y1="492.80" x2="307.90" y2="569.30" stroke="#eeeef3" stroke-width="0.9" />
<line x1="311.30" y1="492.80" x2="311.30" y2="569.30" stroke="#eeeef3" stroke-width="0.9" />
<line x1="314.70" y1="492.80" x2="314.70" y2="569.30" stroke="#eeeef3" stroke-width="0.9" />
<line x1="318.10" y1="492.80" x2="318.10" y2="569.30" stroke="#eeeef3" stroke-width="0.9" />
<line x1="321.50" y1="492.80" x2="321.50" y2="569.30" stroke="#eeeef3" stroke-width="0.9" />
<line x1="324.90" y1="492.80" x2="324.90" y2="569.30" stroke="#eeeef3" stroke-width="0.9" />
<line x1="328.30" y1="492.80" x2="328.30" y2="569.30" stroke="#eeeef3" stroke-width="0.9" />
<line x1="331.70" y1="492.80" x2="331.70" y2="569.30" stroke="#eeeef3" stroke-width="0.9" />
<line x1="335.10" y1="492.80" x2="335.10" y2="569.30" stroke="#eeeef3" stroke-width="0.9" />
<line x1="338.50" y1="492.80" x2="338.50" y2="569.30" stroke="#eeeef3" stroke-width="0.9" />
<rect x="131.70" y="492.80" width="16.20" height="76.50" fill="#dadada" />
<line x1="103.00" y1="509.10" x2="339.20" y2="509.10" stroke="#d68ae9" stroke-width="1.6" />
<path d="M110.80,509.40 L111.50,508.20 L112.20,509.40 Z M121.60,509.40 L121.60,509.40 L122.40,507.90 L123.20,506.60 L124.00,505.80 L124.60,504.80 L125.20,505.20 L125.80,503.90 L126.40,503.10 L127.00,504.40 L127.50,507.40 L127.90,509.40 L127.90,509.40 Z M129.00,509.40 L129.50,508.20 L130.00,509.40 Z M133.80,509.40 L133.80,509.40 L134.80,508.20 L135.80,507.20 L136.80,506.20 L137.60,505.20 L138.30,503.60 L139.00,502.20 L139.70,501.40 L140.30,502.90 L140.80,508.40 L141.20,509.40 L141.20,509.40 Z M141.80,509.40 L142.30,500.86 L142.52,497.20 L142.88,497.20 L143.10,500.86 L143.60,509.40 Z M159.00,509.40 L159.50,508.40 L160.00,509.40 Z M175.50,509.40 L176.00,508.60 L176.50,509.40 Z M192.50,509.40 L193.00,508.20 L193.50,509.40 Z M205.00,509.40 L205.50,508.60 L206.00,509.40 Z M233.00,509.40 L233.50,508.60 L234.00,509.40 Z M297.60,509.40 L298.40,507.40 L299.20,509.40 Z M314.50,509.40 L315.35,507.80 L316.20,509.40 Z M316.50,509.40 L317.25,508.20 L318.00,509.40 Z M324.70,509.40 L325.37,503.52 L325.66,501.00 L326.14,501.00 L326.43,503.52 L327.10,509.40 Z M328.50,509.40 L329.05,507.90 L329.60,509.40 Z" fill="#3f7a2a"/>
<line x1="103.00" y1="525.50" x2="339.20" y2="525.50" stroke="#d68ae9" stroke-width="1.6" />
<path d="M107.00,525.80 L108.00,525.00 L109.00,525.80 Z M110.00,525.80 L111.35,524.80 L112.70,525.80 Z M116.00,525.80 L117.00,525.00 L118.00,525.80 Z M122.20,525.80 L122.20,525.80 L122.80,523.80 L123.40,522.00 L124.10,521.50 L124.80,523.30 L125.40,523.00 L126.10,521.50 L126.80,521.80 L127.50,524.30 L128.20,525.80 L128.20,525.80 Z M128.00,525.80 L128.50,524.80 L129.00,525.80 Z M135.00,525.80 L135.00,525.80 L136.00,525.00 L137.20,524.20 L138.30,522.80 L139.00,521.20 L139.60,520.80 L140.30,522.00 L141.20,524.30 L142.50,525.00 L143.20,525.80 L143.20,525.80 Z M158.50,525.80 L159.50,523.60 L160.50,525.80 Z M160.50,525.80 L161.75,524.30 L163.00,525.80 Z M172.00,525.80 L173.00,523.80 L174.00,525.80 Z M194.50,525.80 L195.25,524.40 L196.00,525.80 Z M206.50,525.80 L207.00,524.80 L207.50,525.80 Z M216.50,525.80 L217.00,525.00 L217.50,525.80 Z M232.50,525.80 L233.25,524.40 L234.00,525.80 Z M297.60,525.80 L298.40,523.80 L299.20,525.80 Z M315.00,525.80 L315.50,525.00 L316.00,525.80 Z M324.80,525.80 L325.47,521.39 L325.76,519.50 L326.24,519.50 L326.53,521.39 L327.20,525.80 Z" fill="#6e1028"/>
<line x1="103.00" y1="542.20" x2="339.20" y2="542.20" stroke="#d68ae9" stroke-width="1.6" />
<path d="M101.50,542.50 L101.93,540.70 L102.80,540.70 L103.23,542.50 Z M103.62,542.50 L104.17,540.10 L105.27,540.10 L105.82,542.50 Z M106.05,542.50 L106.53,540.90 L107.49,540.90 L107.98,542.50 Z M108.34,542.50 L108.78,540.70 L109.66,540.70 L110.10,542.50 Z M110.46,542.50 L110.76,540.50 L111.37,540.50 L111.68,542.50 Z M111.74,542.50 L112.20,541.30 L113.13,541.30 L113.60,542.50 Z M113.86,542.50 L114.28,540.10 L115.10,540.10 L115.51,542.50 Z M115.81,542.50 L116.30,540.90 L117.28,540.90 L117.77,542.50 Z M118.05,542.50 L118.62,541.30 L119.76,541.30 L120.33,542.50 Z M120.36,542.50 L120.70,540.90 L121.37,540.90 L121.71,542.50 Z M121.98,542.50 L122.53,540.50 L123.63,540.50 L124.18,542.50 Z M124.38,542.50 L124.95,540.70 L126.10,540.70 L126.67,542.50 Z M126.78,542.50 L127.16,541.30 L127.91,541.30 L128.28,542.50 Z M128.58,542.50 L129.02,540.50 L129.89,540.50 L130.32,542.50 Z M148.00,542.50 L148.49,541.50 L149.47,541.50 L149.96,542.50 Z M150.29,542.50 L150.65,541.70 L151.36,541.70 L151.72,542.50 Z M152.22,542.50 L152.71,540.70 L153.70,540.70 L154.19,542.50 Z M154.54,542.50 L155.08,541.50 L156.16,541.50 L156.70,542.50 Z M156.70,542.50 L157.25,540.70 L158.35,540.70 L158.90,542.50 Z M159.08,542.50 L159.52,541.30 L160.39,541.30 L160.83,542.50 Z M160.86,542.50 L161.48,541.70 L162.74,541.70 L163.37,542.50 Z M163.62,542.50 L164.25,540.70 L165.50,540.70 L166.13,542.50 Z M166.53,542.50 L166.87,541.70 L167.54,541.70 L167.87,542.50 Z M168.28,542.50 L168.85,541.30 L169.98,541.30 L170.54,542.50 Z M170.59,542.50 L171.28,540.70 L172.67,540.70 L173.37,542.50 Z M173.42,542.50 L173.89,541.30 L174.83,541.30 L175.30,542.50 Z M175.57,542.50 L176.22,541.50 L177.53,541.50 L178.18,542.50 Z M178.26,542.50 L178.84,541.70 L180.00,541.70 L180.58,542.50 Z M180.85,542.50 L181.36,541.70 L182.36,541.70 L182.87,542.50 Z M183.07,542.50 L183.53,541.50 L184.47,541.50 L184.94,542.50 Z M185.17,542.50 L185.71,541.50 L186.80,541.50 L187.35,542.50 Z M187.36,542.50 L187.95,541.30 L189.13,541.30 L189.72,542.50 Z M190.21,542.50 L190.78,541.00 L191.91,541.00 L192.47,542.50 Z M192.94,542.50 L193.59,540.70 L194.88,540.70 L195.53,542.50 Z M195.87,542.50 L196.21,541.30 L196.90,541.30 L197.25,542.50 Z M197.42,542.50 L197.86,541.50 L198.76,541.50 L199.21,542.50 Z M199.62,542.50 L200.12,541.70 L201.12,541.70 L201.62,542.50 Z M201.81,542.50 L202.45,541.70 L203.74,541.70 L204.38,542.50 Z M204.64,542.50 L205.03,540.70 L205.81,540.70 L206.20,542.50 Z M206.22,542.50 L206.60,541.50 L207.36,541.50 L207.74,542.50 Z M207.80,542.50 L208.32,541.30 L209.36,541.30 L209.88,542.50 Z M209.91,542.50 L210.32,540.70 L211.14,540.70 L211.55,542.50 Z M211.69,542.50 L212.13,541.70 L213.00,541.70 L213.44,542.50 Z M213.70,542.50 L214.15,541.00 L215.04,541.00 L215.49,542.50 Z M215.63,542.50 L216.12,540.70 L217.10,540.70 L217.59,542.50 Z M217.71,542.50 L218.41,540.70 L219.80,540.70 L220.49,542.50 Z M220.95,542.50 L221.40,541.30 L222.29,541.30 L222.74,542.50 Z M223.12,542.50 L223.51,541.50 L224.28,541.50 L224.67,542.50 Z M224.68,542.50 L225.08,541.00 L225.90,541.00 L226.30,542.50 Z M226.39,542.50 L227.01,541.50 L228.25,541.50 L228.87,542.50 Z M228.89,542.50 L229.43,541.00 L230.53,541.00 L231.08,542.50 Z M231.58,542.50 L232.08,541.70 L233.08,541.70 L233.58,542.50 Z M234.05,542.50 L234.70,541.00 L236.00,541.00 L236.66,542.50 Z M236.98,542.50 L237.37,541.50 L238.15,541.50 L238.54,542.50 Z M238.79,542.50 L239.29,541.00 L240.28,541.00 L240.78,542.50 Z M133.80,542.50 L137.05,538.20 L143.55,538.20 L146.80,542.50 Z M137.50,542.50 L139.07,529.50 L142.23,529.50 L143.80,542.50 Z M148.00,542.50 L148.50,541.70 L149.50,541.70 L150.00,542.50 Z M160.00,542.50 L160.75,541.00 L162.25,541.00 L163.00,542.50 Z M163.50,542.50 L164.88,541.20 L167.62,541.20 L169.00,542.50 Z M171.00,542.50 L171.75,540.50 L173.25,540.50 L174.00,542.50 Z M175.00,542.50 L175.50,541.30 L176.50,541.30 L177.00,542.50 Z M179.50,542.50 L181.00,540.70 L184.00,540.70 L185.50,542.50 Z M191.50,542.50 L192.75,540.70 L195.25,540.70 L196.50,542.50 Z M200.50,542.50 L201.38,541.30 L203.12,541.30 L204.00,542.50 Z M205.00,542.50 L206.75,541.00 L210.25,541.00 L212.00,542.50 Z M213.00,542.50 L214.00,541.50 L216.00,541.50 L217.00,542.50 Z M221.50,542.50 L222.75,540.50 L225.25,540.50 L226.50,542.50 Z M228.00,542.50 L228.75,541.50 L230.25,541.50 L231.00,542.50 Z M231.50,542.50 L233.25,540.50 L236.75,540.50 L238.50,542.50 Z M262.00,542.50 L262.50,541.70 L263.50,541.70 L264.00,542.50 Z M310.50,542.50 L311.75,540.50 L314.25,540.50 L315.50,542.50 Z M322.30,542.50 L324.60,539.14 L325.58,537.70 L327.22,537.70 L328.20,539.14 L330.50,542.50 Z M335.50,542.50 L336.38,540.50 L338.12,540.50 L339.00,542.50 Z" fill="#b01515"/>
<line x1="103.00" y1="558.70" x2="339.20" y2="558.70" stroke="#d68ae9" stroke-width="1.6" />
<line x1="103.00" y1="558.70" x2="148.50" y2="558.70" stroke="#8a8a8a" stroke-width="1.5" />
<line x1="156.00" y1="558.70" x2="160.00" y2="558.70" stroke="#8a8a8a" stroke-width="1.5" />
<line x1="226.00" y1="558.70" x2="234.00" y2="558.70" stroke="#8a8a8a" stroke-width="1.5" />
<line x1="314.00" y1="558.70" x2="318.00" y2="558.70" stroke="#8a8a8a" stroke-width="1.5" />
<path d="M108.00,558.70 L109.00,557.90 L110.00,558.70 Z M113.00,558.70 L114.00,558.10 L115.00,558.70 Z M121.00,558.70 L122.50,557.90 L124.00,558.70 Z M128.00,558.70 L129.50,558.10 L131.00,558.70 Z M190.00,558.70 L191.00,558.10 L192.00,558.70 Z M228.00,558.70 L230.00,557.70 L232.00,558.70 Z M255.00,558.70 L256.00,558.20 L257.00,558.70 Z" fill="#444444"/>
<line x1="104.00" y1="566.60" x2="310.50" y2="566.60" stroke="#8b1a1a" stroke-width="0.7" />
<line x1="325.50" y1="566.60" x2="339.00" y2="566.60" stroke="#8b1a1a" stroke-width="0.7" />
<rect x="118.50" y="565.60" width="9.80" height="2.00" fill="#8b1a1a" />
<rect x="121.50" y="565.10" width="5.50" height="3.00" fill="#8b1a1a" />
<rect x="133.50" y="565.30" width="1.70" height="2.60" fill="#8b1a1a" />
<rect x="135.80" y="565.30" width="1.70" height="2.60" fill="#8b1a1a" />
<rect x="139.80" y="565.30" width="4.00" height="2.60" fill="#8b1a1a" />
<rect x="159.60" y="565.30" width="2.90" height="2.60" fill="#8b1a1a" />
<rect x="189.40" y="565.30" width="1.80" height="2.60" fill="#8b1a1a" />
<rect x="192.40" y="565.30" width="1.80" height="2.60" fill="#8b1a1a" />
<rect x="219.60" y="565.30" width="1.60" height="2.60" fill="#8b1a1a" />
<rect x="227.90" y="565.30" width="2.10" height="2.60" fill="#8b1a1a" />
<rect x="230.60" y="565.30" width="4.00" height="2.60" fill="#8b1a1a" />
<rect x="236.20" y="565.30" width="1.90" height="2.60" fill="#8b1a1a" />
<rect x="297.20" y="565.30" width="1.80" height="2.60" fill="#8b1a1a" />
<rect x="305.60" y="565.30" width="4.80" height="2.60" fill="#8b1a1a" />
<rect x="326.20" y="565.30" width="1.20" height="2.60" fill="#8b1a1a" />
<line x1="135.80" y1="562.20" x2="145.60" y2="562.20" stroke="#c03030" stroke-width="1.1" />
<line x1="325.40" y1="562.10" x2="330.00" y2="562.10" stroke="#c03030" stroke-width="1.1" />
<text x="0" y="0" transform="translate(295.00 493.20) scale(0.8497 1)" font-size="7.8" fill="#222" text-anchor="middle" stroke="#222" stroke-width="0.08" >Chr5: 62,947,263-62,967,262</text>
<text x="0" y="0" transform="translate(120.75 575.70) scale(0.9493 1)" font-size="7.0" fill="#8b2030" text-anchor="middle" font-style="italic" stroke="#8b2030" stroke-width="0.08" >tmem203</text>
<text x="0" y="0" transform="translate(146.95 575.70) scale(0.9596 1)" font-size="7.0" fill="#8b2030" text-anchor="middle" font-style="italic" stroke="#8b2030" stroke-width="0.08" >alad</text>
<text x="0" y="0" transform="translate(325.45 575.20) scale(0.9132 1)" font-size="7.0" fill="#8b2030" text-anchor="middle" font-style="italic" stroke="#8b2030" stroke-width="0.08" >fbxw5</text>
<text x="0" y="0" transform="translate(19.20 502.70) scale(0.9702 1)" font-size="7.0" fill="#548c48" stroke="#548c48" stroke-width="0.08" >ATAC-sibling-3 dpf-merge</text>
<text x="0" y="0" transform="translate(19.20 518.90) scale(0.9701 1)" font-size="7.0" fill="#7a2233" stroke="#7a2233" stroke-width="0.08" >ATAC-mutant-3 dpf-merge</text>
<text x="0" y="0" transform="translate(19.20 536.30) scale(0.9325 1)" font-size="7.0" fill="#c0302f" stroke="#c0302f" stroke-width="0.08" >ChIP-Smarca5-3 dpf</text>
<text x="0" y="0" transform="translate(19.20 550.80) scale(0.9735 1)" font-size="7.0" fill="#333333" stroke="#333333" stroke-width="0.08" >ChIP-control-3 dpf</text>
<text x="0" y="0" transform="translate(19.20 562.90) scale(0.9297 1)" font-size="7.0" fill="#c0302f" stroke="#c0302f" stroke-width="0.08" >ChIP-Smarca5-3 dpf-peak</text>
<text x="0" y="0" transform="translate(19.20 570.40) scale(0.9296 1)" font-size="7.0" fill="#c0302f" stroke="#c0302f" stroke-width="0.08" >Ensembl Genes</text>
<text x="0" y="0" transform="translate(101.80 497.80)" font-size="6.8" fill="#548c48" text-anchor="end" stroke="#548c48" stroke-width="0.08" >30</text>
<text x="0" y="0" transform="translate(101.80 508.20)" font-size="6.8" fill="#548c48" text-anchor="end" stroke="#548c48" stroke-width="0.08" >2</text>
<text x="0" y="0" transform="translate(101.80 514.20)" font-size="6.8" fill="#7a2233" text-anchor="end" stroke="#7a2233" stroke-width="0.08" >30</text>
<text x="0" y="0" transform="translate(101.80 523.90)" font-size="6.8" fill="#7a2233" text-anchor="end" stroke="#7a2233" stroke-width="0.08" >2</text>
<text x="0" y="0" transform="translate(101.80 531.90)" font-size="6.8" fill="#c0302f" text-anchor="end" stroke="#c0302f" stroke-width="0.08" >10</text>
<text x="0" y="0" transform="translate(101.80 541.80)" font-size="6.8" fill="#c0302f" text-anchor="end" stroke="#c0302f" stroke-width="0.08" >1</text>
<text x="0" y="0" transform="translate(101.80 548.60)" font-size="6.8" fill="#333333" text-anchor="end" stroke="#333333" stroke-width="0.08" >10</text>
<text x="0" y="0" transform="translate(101.80 561.50)" font-size="6.8" fill="#333333" text-anchor="end" stroke="#333333" stroke-width="0.08" >1</text>
<line x1="103.90" y1="592.90" x2="103.90" y2="666.50" stroke="#eeeef3" stroke-width="0.9" />
<line x1="107.30" y1="592.90" x2="107.30" y2="666.50" stroke="#eeeef3" stroke-width="0.9" />
<line x1="110.70" y1="592.90" x2="110.70" y2="666.50" stroke="#eeeef3" stroke-width="0.9" />
<line x1="114.10" y1="592.90" x2="114.10" y2="666.50" stroke="#eeeef3" stroke-width="0.9" />
<line x1="117.50" y1="592.90" x2="117.50" y2="666.50" stroke="#eeeef3" stroke-width="0.9" />
<line x1="120.90" y1="592.90" x2="120.90" y2="666.50" stroke="#eeeef3" stroke-width="0.9" />
<line x1="124.30" y1="592.90" x2="124.30" y2="666.50" stroke="#eeeef3" stroke-width="0.9" />
<line x1="127.70" y1="592.90" x2="127.70" y2="666.50" stroke="#eeeef3" stroke-width="0.9" />
<line x1="131.10" y1="592.90" x2="131.10" y2="666.50" stroke="#eeeef3" stroke-width="0.9" />
<line x1="134.50" y1="592.90" x2="134.50" y2="666.50" stroke="#eeeef3" stroke-width="0.9" />
<line x1="137.90" y1="592.90" x2="137.90" y2="666.50" stroke="#eeeef3" stroke-width="0.9" />
<line x1="141.30" y1="592.90" x2="141.30" y2="666.50" stroke="#eeeef3" stroke-width="0.9" />
<line x1="144.70" y1="592.90" x2="144.70" y2="666.50" stroke="#eeeef3" stroke-width="0.9" />
<line x1="148.10" y1="592.90" x2="148.10" y2="666.50" stroke="#eeeef3" stroke-width="0.9" />
<line x1="151.50" y1="592.90" x2="151.50" y2="666.50" stroke="#eeeef3" stroke-width="0.9" />
<line x1="154.90" y1="592.90" x2="154.90" y2="666.50" stroke="#eeeef3" stroke-width="0.9" />
<line x1="158.30" y1="592.90" x2="158.30" y2="666.50" stroke="#eeeef3" stroke-width="0.9" />
<line x1="161.70" y1="592.90" x2="161.70" y2="666.50" stroke="#eeeef3" stroke-width="0.9" />
<line x1="165.10" y1="592.90" x2="165.10" y2="666.50" stroke="#eeeef3" stroke-width="0.9" />
<line x1="168.50" y1="592.90" x2="168.50" y2="666.50" stroke="#eeeef3" stroke-width="0.9" />
<line x1="171.90" y1="592.90" x2="171.90" y2="666.50" stroke="#eeeef3" stroke-width="0.9" />
<line x1="175.30" y1="592.90" x2="175.30" y2="666.50" stroke="#eeeef3" stroke-width="0.9" />
<line x1="178.70" y1="592.90" x2="178.70" y2="666.50" stroke="#eeeef3" stroke-width="0.9" />
<line x1="182.10" y1="592.90" x2="182.10" y2="666.50" stroke="#eeeef3" stroke-width="0.9" />
<line x1="185.50" y1="592.90" x2="185.50" y2="666.50" stroke="#eeeef3" stroke-width="0.9" />
<line x1="188.90" y1="592.90" x2="188.90" y2="666.50" stroke="#eeeef3" stroke-width="0.9" />
<line x1="192.30" y1="592.90" x2="192.30" y2="666.50" stroke="#eeeef3" stroke-width="0.9" />
<line x1="195.70" y1="592.90" x2="195.70" y2="666.50" stroke="#eeeef3" stroke-width="0.9" />
<line x1="199.10" y1="592.90" x2="199.10" y2="666.50" stroke="#eeeef3" stroke-width="0.9" />
<line x1="202.50" y1="592.90" x2="202.50" y2="666.50" stroke="#eeeef3" stroke-width="0.9" />
<line x1="205.90" y1="592.90" x2="205.90" y2="666.50" stroke="#eeeef3" stroke-width="0.9" />
<line x1="209.30" y1="592.90" x2="209.30" y2="666.50" stroke="#eeeef3" stroke-width="0.9" />
<line x1="212.70" y1="592.90" x2="212.70" y2="666.50" stroke="#eeeef3" stroke-width="0.9" />
<line x1="216.10" y1="592.90" x2="216.10" y2="666.50" stroke="#eeeef3" stroke-width="0.9" />
<line x1="219.50" y1="592.90" x2="219.50" y2="666.50" stroke="#eeeef3" stroke-width="0.9" />
<line x1="222.90" y1="592.90" x2="222.90" y2="666.50" stroke="#eeeef3" stroke-width="0.9" />
<line x1="226.30" y1="592.90" x2="226.30" y2="666.50" stroke="#eeeef3" stroke-width="0.9" />
<line x1="229.70" y1="592.90" x2="229.70" y2="666.50" stroke="#eeeef3" stroke-width="0.9" />
<line x1="233.10" y1="592.90" x2="233.10" y2="666.50" stroke="#eeeef3" stroke-width="0.9" />
<line x1="236.50" y1="592.90" x2="236.50" y2="666.50" stroke="#eeeef3" stroke-width="0.9" />
<line x1="239.90" y1="592.90" x2="239.90" y2="666.50" stroke="#eeeef3" stroke-width="0.9" />
<line x1="243.30" y1="592.90" x2="243.30" y2="666.50" stroke="#eeeef3" stroke-width="0.9" />
<line x1="246.70" y1="592.90" x2="246.70" y2="666.50" stroke="#eeeef3" stroke-width="0.9" />
<line x1="250.10" y1="592.90" x2="250.10" y2="666.50" stroke="#eeeef3" stroke-width="0.9" />
<line x1="253.50" y1="592.90" x2="253.50" y2="666.50" stroke="#eeeef3" stroke-width="0.9" />
<line x1="256.90" y1="592.90" x2="256.90" y2="666.50" stroke="#eeeef3" stroke-width="0.9" />
<line x1="260.30" y1="592.90" x2="260.30" y2="666.50" stroke="#eeeef3" stroke-width="0.9" />
<line x1="263.70" y1="592.90" x2="263.70" y2="666.50" stroke="#eeeef3" stroke-width="0.9" />
<line x1="267.10" y1="592.90" x2="267.10" y2="666.50" stroke="#eeeef3" stroke-width="0.9" />
<line x1="270.50" y1="592.90" x2="270.50" y2="666.50" stroke="#eeeef3" stroke-width="0.9" />
<line x1="273.90" y1="592.90" x2="273.90" y2="666.50" stroke="#eeeef3" stroke-width="0.9" />
<line x1="277.30" y1="592.90" x2="277.30" y2="666.50" stroke="#eeeef3" stroke-width="0.9" />
<line x1="280.70" y1="592.90" x2="280.70" y2="666.50" stroke="#eeeef3" stroke-width="0.9" />
<line x1="284.10" y1="592.90" x2="284.10" y2="666.50" stroke="#eeeef3" stroke-width="0.9" />
<line x1="287.50" y1="592.90" x2="287.50" y2="666.50" stroke="#eeeef3" stroke-width="0.9" />
<line x1="290.90" y1="592.90" x2="290.90" y2="666.50" stroke="#eeeef3" stroke-width="0.9" />
<line x1="294.30" y1="592.90" x2="294.30" y2="666.50" stroke="#eeeef3" stroke-width="0.9" />
<line x1="297.70" y1="592.90" x2="297.70" y2="666.50" stroke="#eeeef3" stroke-width="0.9" />
<line x1="301.10" y1="592.90" x2="301.10" y2="666.50" stroke="#eeeef3" stroke-width="0.9" />
<line x1="304.50" y1="592.90" x2="304.50" y2="666.50" stroke="#eeeef3" stroke-width="0.9" />
<line x1="307.90" y1="592.90" x2="307.90" y2="666.50" stroke="#eeeef3" stroke-width="0.9" />
<line x1="311.30" y1="592.90" x2="311.30" y2="666.50" stroke="#eeeef3" stroke-width="0.9" />
<line x1="314.70" y1="592.90" x2="314.70" y2="666.50" stroke="#eeeef3" stroke-width="0.9" />
<line x1="318.10" y1="592.90" x2="318.10" y2="666.50" stroke="#eeeef3" stroke-width="0.9" />
<line x1="321.50" y1="592.90" x2="321.50" y2="666.50" stroke="#eeeef3" stroke-width="0.9" />
<line x1="324.90" y1="592.90" x2="324.90" y2="666.50" stroke="#eeeef3" stroke-width="0.9" />
<line x1="328.30" y1="592.90" x2="328.30" y2="666.50" stroke="#eeeef3" stroke-width="0.9" />
<line x1="331.70" y1="592.90" x2="331.70" y2="666.50" stroke="#eeeef3" stroke-width="0.9" />
<line x1="335.10" y1="592.90" x2="335.10" y2="666.50" stroke="#eeeef3" stroke-width="0.9" />
<line x1="338.50" y1="592.90" x2="338.50" y2="666.50" stroke="#eeeef3" stroke-width="0.9" />
<rect x="125.20" y="592.90" width="13.60" height="73.60" fill="#dadada" />
<rect x="239.70" y="592.90" width="14.00" height="73.60" fill="#dadada" />
<line x1="103.00" y1="611.10" x2="339.80" y2="611.10" stroke="#d68ae9" stroke-width="1.6" />
<path d="M102.50,611.40 L103.50,609.40 L104.50,611.40 Z M105.50,611.40 L106.50,610.20 L107.50,611.40 Z M108.00,611.40 L109.50,609.60 L111.00,611.40 Z M111.00,611.40 L112.00,610.20 L113.00,611.40 Z M121.50,611.40 L122.00,610.40 L122.50,611.40 Z M128.50,611.40 L129.50,608.40 L130.50,611.40 Z M129.90,611.40 L130.74,601.74 L131.10,597.60 L131.70,597.60 L132.06,601.74 L132.90,611.40 Z M132.20,611.40 L133.00,608.40 L133.80,611.40 Z M134.80,611.40 L135.30,610.40 L135.80,611.40 Z M205.50,611.40 L206.25,609.40 L207.00,611.40 Z M212.50,611.40 L213.00,610.40 L213.50,611.40 Z M215.00,611.40 L215.90,608.40 L216.80,611.40 Z M225.00,611.40 L225.50,610.40 L226.00,611.40 Z M237.20,611.40 L238.00,607.40 L238.80,611.40 Z M240.20,611.40 L240.90,609.40 L241.60,611.40 Z M244.30,611.40 L245.70,601.88 L246.30,597.80 L247.30,597.80 L247.90,601.88 L249.30,611.40 Z M262.50,611.40 L263.00,610.60 L263.50,611.40 Z M264.00,611.40 L264.50,610.60 L265.00,611.40 Z M292.20,611.40 L292.80,609.40 L293.40,611.40 Z M295.60,611.40 L296.30,608.40 L297.00,611.40 Z M322.80,611.40 L323.40,610.00 L324.00,611.40 Z" fill="#3f7a2a"/>
<line x1="103.00" y1="627.50" x2="339.80" y2="627.50" stroke="#d68ae9" stroke-width="1.6" />
<path d="M104.00,627.80 L104.75,626.30 L105.50,627.80 Z M112.00,627.80 L112.75,626.30 L113.50,627.80 Z M115.00,627.80 L116.75,626.80 L120.25,626.80 L122.00,627.80 Z M129.40,627.80 L130.52,621.57 L131.00,618.90 L131.80,618.90 L132.28,621.57 L133.40,627.80 Z M134.00,627.80 L135.00,627.00 L136.00,627.80 Z M138.00,627.80 L138.75,627.00 L139.50,627.80 Z M180.50,627.80 L181.00,626.80 L181.50,627.80 Z M192.50,627.80 L193.00,626.80 L193.50,627.80 Z M216.20,627.80 L216.70,626.80 L217.20,627.80 Z M221.00,627.80 L221.75,626.30 L222.50,627.80 Z M224.80,627.80 L225.50,625.80 L226.20,627.80 Z M237.20,627.80 L238.00,625.30 L238.80,627.80 Z M244.60,627.80 L245.55,618.28 L245.96,614.20 L246.64,614.20 L247.05,618.28 L248.00,627.80 Z M269.50,627.80 L270.25,626.30 L271.00,627.80 Z M278.00,627.80 L278.50,626.80 L279.00,627.80 Z M296.00,627.80 L296.50,626.80 L297.00,627.80 Z M314.00,627.80 L314.75,627.00 L315.50,627.80 Z M337.00,627.80 L337.75,626.30 L338.50,627.80 Z" fill="#6e1028"/>
<line x1="103.00" y1="644.00" x2="339.80" y2="644.00" stroke="#d68ae9" stroke-width="1.6" />
<path d="M101.80,644.30 L102.90,641.10 L104.00,644.30 Z M104.50,644.30 L104.97,642.80 L105.92,642.80 L106.39,644.30 Z M106.61,644.30 L106.96,643.10 L107.66,643.10 L108.01,644.30 Z M108.31,644.30 L108.80,643.30 L109.78,643.30 L110.27,644.30 Z M110.77,644.30 L111.20,643.30 L112.04,643.30 L112.47,644.30 Z M112.71,644.30 L113.07,643.30 L113.79,643.30 L114.15,644.30 Z M114.45,644.30 L114.81,641.30 L115.52,641.30 L115.88,644.30 Z M115.95,644.30 L116.37,642.50 L117.23,642.50 L117.66,644.30 Z M117.98,644.30 L118.34,641.30 L119.05,641.30 L119.41,644.30 Z M119.63,644.30 L120.39,643.30 L121.90,643.30 L122.66,644.30 Z M122.97,644.30 L123.36,641.80 L124.14,641.80 L124.52,644.30 Z M124.60,644.30 L124.99,642.30 L125.75,642.30 L126.13,644.30 Z M126.44,644.30 L127.07,643.30 L128.33,643.30 L128.96,644.30 Z M129.28,644.30 L129.89,642.30 L131.11,642.30 L131.72,644.30 Z M131.78,644.30 L132.42,641.30 L133.71,641.30 L134.35,644.30 Z M134.38,644.30 L134.80,642.50 L135.65,642.50 L136.07,644.30 Z M136.36,644.30 L137.03,641.80 L138.37,641.80 L139.05,644.30 Z M139.37,644.30 L139.90,642.30 L140.96,642.30 L141.49,644.30 Z M141.62,644.30 L142.03,643.10 L142.85,643.10 L143.26,644.30 Z M143.39,644.30 L143.98,641.30 L145.14,641.30 L145.72,644.30 Z M146.00,644.30 L146.48,641.80 L147.44,641.80 L147.92,644.30 Z M148.08,644.30 L148.84,643.30 L150.36,643.30 L151.12,644.30 Z M151.41,644.30 L151.81,642.30 L152.61,642.30 L153.02,644.30 Z M153.10,644.30 L153.65,643.30 L154.74,643.30 L155.28,644.30 Z M155.81,644.30 L156.17,641.30 L156.90,641.30 L157.27,644.30 Z M157.58,644.30 L158.30,642.30 L159.73,642.30 L160.44,644.30 Z M160.63,644.30 L161.11,641.80 L162.08,641.80 L162.57,644.30 Z M162.89,644.30 L163.42,643.10 L164.48,643.10 L165.01,644.30 Z M165.06,644.30 L165.51,642.50 L166.41,642.50 L166.85,644.30 Z M167.22,644.30 L167.58,642.50 L168.29,642.50 L168.65,644.30 Z M168.82,644.30 L169.40,642.50 L170.57,642.50 L171.15,644.30 Z M171.61,644.30 L172.06,641.80 L172.97,641.80 L173.43,644.30 Z M173.91,644.30 L174.40,641.80 L175.36,641.80 L175.85,644.30 Z M176.04,644.30 L176.64,641.80 L177.84,641.80 L178.44,644.30 Z M178.47,644.30 L179.14,642.80 L180.47,642.80 L181.14,644.30 Z M181.55,644.30 L182.05,643.10 L183.06,643.10 L183.57,644.30 Z M183.84,644.30 L184.24,641.80 L185.05,641.80 L185.45,644.30 Z M185.76,644.30 L186.47,643.10 L187.91,643.10 L188.63,644.30 Z M188.87,644.30 L189.44,642.50 L190.58,642.50 L191.16,644.30 Z M191.38,644.30 L191.87,641.80 L192.85,641.80 L193.34,644.30 Z M193.86,644.30 L194.26,642.80 L195.05,642.80 L195.45,644.30 Z M195.53,644.30 L196.15,643.30 L197.39,643.30 L198.01,644.30 Z M198.28,644.30 L198.87,642.30 L200.04,642.30 L200.63,644.30 Z M200.79,644.30 L201.18,641.30 L201.97,641.30 L202.36,644.30 Z M202.57,644.30 L203.15,642.80 L204.31,642.80 L204.88,644.30 Z M205.26,644.30 L205.82,641.30 L206.93,641.30 L207.49,644.30 Z M207.85,644.30 L208.51,641.80 L209.82,641.80 L210.47,644.30 Z M210.97,644.30 L211.64,643.10 L212.99,643.10 L213.66,644.30 Z M214.04,644.30 L214.61,641.80 L215.76,641.80 L216.34,644.30 Z M216.56,644.30 L216.93,642.50 L217.69,642.50 L218.06,644.30 Z M218.28,644.30 L218.70,642.80 L219.52,642.80 L219.94,644.30 Z M220.18,644.30 L220.56,641.30 L221.31,641.30 L221.69,644.30 Z M221.72,644.30 L222.05,642.80 L222.71,642.80 L223.04,644.30 Z M223.34,644.30 L224.09,641.30 L225.58,641.30 L226.33,644.30 Z M226.34,644.30 L227.06,641.30 L228.49,641.30 L229.20,644.30 Z M229.41,644.30 L230.02,642.30 L231.23,642.30 L231.84,644.30 Z M232.18,644.30 L232.71,643.30 L233.79,643.30 L234.33,644.30 Z M234.80,644.30 L235.56,641.80 L237.10,641.80 L237.86,644.30 Z M238.13,644.30 L238.60,642.80 L239.53,642.80 L240.00,644.30 Z M240.05,644.30 L240.53,642.30 L241.50,642.30 L241.98,644.30 Z M242.24,644.30 L242.87,641.30 L244.14,641.30 L244.78,644.30 Z M244.79,644.30 L245.54,641.30 L247.04,641.30 L247.78,644.30 Z M247.98,644.30 L248.62,643.30 L249.88,643.30 L250.52,644.30 Z M250.94,644.30 L251.40,642.50 L252.32,642.50 L252.78,644.30 Z M253.25,644.30 L253.89,642.30 L255.16,642.30 L255.80,644.30 Z M256.09,644.30 L256.81,642.30 L258.27,642.30 L259.00,644.30 Z M259.43,644.30 L259.99,643.10 L261.12,643.10 L261.69,644.30 Z M261.96,644.30 L262.57,641.30 L263.79,641.30 L264.40,644.30 Z M264.85,644.30 L265.61,643.10 L267.14,643.10 L267.90,644.30 Z M268.01,644.30 L268.44,641.80 L269.32,641.80 L269.75,644.30 Z M270.16,644.30 L270.59,641.30 L271.45,641.30 L271.88,644.30 Z M272.15,644.30 L272.80,643.30 L274.10,643.30 L274.75,644.30 Z M275.19,644.30 L275.73,642.80 L276.80,642.80 L277.34,644.30 Z M277.72,644.30 L278.47,641.80 L279.97,641.80 L280.72,644.30 Z M281.17,644.30 L281.82,642.30 L283.11,642.30 L283.76,644.30 Z M284.29,644.30 L284.78,642.80 L285.76,642.80 L286.25,644.30 Z M286.30,644.30 L286.84,642.30 L287.92,642.30 L288.45,644.30 Z M288.56,644.30 L289.17,641.30 L290.38,641.30 L290.98,644.30 Z M291.45,644.30 L291.99,642.50 L293.07,642.50 L293.61,644.30 Z M293.80,644.30 L294.41,643.10 L295.64,643.10 L296.25,644.30 Z M296.61,644.30 L297.34,643.10 L298.80,643.10 L299.53,644.30 Z M299.93,644.30 L300.34,642.80 L301.18,642.80 L301.60,644.30 Z M301.84,644.30 L302.45,643.30 L303.66,643.30 L304.27,644.30 Z M304.72,644.30 L305.47,641.80 L306.99,641.80 L307.75,644.30 Z M308.00,644.30 L308.66,643.30 L309.97,643.30 L310.63,644.30 Z M311.03,644.30 L311.43,642.80 L312.24,642.80 L312.65,644.30 Z M312.66,644.30 L313.25,641.80 L314.43,641.80 L315.02,644.30 Z M315.46,644.30 L315.86,643.10 L316.65,643.10 L317.04,644.30 Z M317.37,644.30 L317.91,642.30 L318.99,642.30 L319.52,644.30 Z M319.61,644.30 L320.18,643.30 L321.32,643.30 L321.90,644.30 Z M321.90,644.30 L322.66,642.50 L324.17,642.50 L324.93,644.30 Z M324.99,644.30 L325.65,642.80 L326.97,642.80 L327.63,644.30 Z M327.87,644.30 L328.58,643.10 L330.01,643.10 L330.72,644.30 Z M331.20,644.30 L331.54,642.80 L332.23,642.80 L332.57,644.30 Z M332.73,644.30 L333.17,641.30 L334.04,641.30 L334.47,644.30 Z M334.65,644.30 L335.22,643.10 L336.36,643.10 L336.93,644.30 Z M337.00,644.30 L337.73,642.30 L339.20,642.30 L339.93,644.30 Z" fill="#b01515"/>
<line x1="103.00" y1="660.70" x2="339.80" y2="660.70" stroke="#d68ae9" stroke-width="1.6" />
<line x1="103.00" y1="660.70" x2="253.70" y2="660.70" stroke="#8a8a8a" stroke-width="1.5" />
<line x1="264.50" y1="660.70" x2="281.30" y2="660.70" stroke="#8a8a8a" stroke-width="1.5" />
<line x1="294.50" y1="660.70" x2="299.30" y2="660.70" stroke="#8a8a8a" stroke-width="1.5" />
<line x1="309.00" y1="660.70" x2="334.00" y2="660.70" stroke="#8a8a8a" stroke-width="1.5" />
<path d="M110.00,660.70 L111.50,660.10 L113.00,660.70 Z M125.00,660.70 L126.50,660.10 L128.00,660.70 Z M170.00,660.70 L172.00,659.90 L174.00,660.70 Z M232.00,660.70 L234.00,660.10 L236.00,660.70 Z M300.00,660.70 L301.50,660.10 L303.00,660.70 Z M318.00,660.70 L321.00,659.90 L324.00,660.70 Z" fill="#444444"/>
<line x1="101.80" y1="667.40" x2="245.20" y2="667.40" stroke="#8b1a1a" stroke-width="0.7" />
<line x1="309.40" y1="667.40" x2="339.00" y2="667.40" stroke="#8b1a1a" stroke-width="0.7" />
<rect x="101.80" y="666.40" width="25.40" height="2.00" fill="#8b1a1a" />
<rect x="130.00" y="666.40" width="8.10" height="2.00" fill="#8b1a1a" />
<rect x="138.00" y="666.10" width="1.20" height="2.60" fill="#8b1a1a" />
<rect x="160.00" y="666.10" width="1.30" height="2.60" fill="#8b1a1a" />
<rect x="162.00" y="666.10" width="1.30" height="2.60" fill="#8b1a1a" />
<rect x="176.20" y="666.10" width="6.10" height="2.60" fill="#8b1a1a" />
<rect x="183.00" y="666.10" width="1.20" height="2.60" fill="#8b1a1a" />
<rect x="221.00" y="666.10" width="1.30" height="2.60" fill="#8b1a1a" />
<rect x="237.50" y="666.10" width="1.20" height="2.60" fill="#8b1a1a" />
<rect x="244.20" y="666.10" width="1.20" height="2.60" fill="#8b1a1a" />
<rect x="338.30" y="666.10" width="1.20" height="2.60" fill="#8b1a1a" />
<rect x="309.40" y="666.20" width="15.20" height="2.40" fill="#8b1a1a" />
<rect x="323.50" y="665.80" width="1.60" height="3.20" fill="#8b1a1a" />
<text x="0" y="0" transform="translate(287.70 591.20) scale(0.8546 1)" font-size="7.8" fill="#222" text-anchor="middle" stroke="#222" stroke-width="0.08" >Chr5: 28,511,773-28,531,772</text>
<text x="0" y="0" transform="translate(113.80 675.70) scale(0.9617 1)" font-size="7.0" fill="#8b2030" text-anchor="middle" font-style="italic" stroke="#8b2030" stroke-width="0.08" >araf</text>
<text x="0" y="0" transform="translate(241.60 677.50) scale(0.9225 1)" font-size="7.0" fill="#8b2030" text-anchor="middle" font-style="italic" stroke="#8b2030" stroke-width="0.08" >zgc:64051</text>
<text x="0" y="0" transform="translate(329.90 677.00) scale(0.8240 1)" font-size="7.0" fill="#8b2030" text-anchor="middle" font-style="italic" stroke="#8b2030" stroke-width="0.08" >lman2lb</text>
<text x="0" y="0" transform="translate(19.20 604.80) scale(0.9702 1)" font-size="7.0" fill="#548c48" stroke="#548c48" stroke-width="0.08" >ATAC-sibling-3 dpf-merge</text>
<text x="0" y="0" transform="translate(19.20 621.10) scale(0.9701 1)" font-size="7.0" fill="#7a2233" stroke="#7a2233" stroke-width="0.08" >ATAC-mutant-3 dpf-merge</text>
<text x="0" y="0" transform="translate(19.20 637.70) scale(0.9325 1)" font-size="7.0" fill="#c0302f" stroke="#c0302f" stroke-width="0.08" >ChIP-Smarca5-3 dpf</text>
<text x="0" y="0" transform="translate(19.20 655.70) scale(0.9735 1)" font-size="7.0" fill="#333333" stroke="#333333" stroke-width="0.08" >ChIP-control-3 dpf</text>
<text x="0" y="0" transform="translate(19.20 662.90) scale(0.9297 1)" font-size="7.0" fill="#c0302f" stroke="#c0302f" stroke-width="0.08" >ChIP-Smarca5-3 dpf-peak</text>
<text x="0" y="0" transform="translate(19.20 670.90) scale(0.9296 1)" font-size="7.0" fill="#c0302f" stroke="#c0302f" stroke-width="0.08" >Ensembl Genes</text>
<text x="0" y="0" transform="translate(101.80 599.50)" font-size="6.8" fill="#548c48" text-anchor="end" stroke="#548c48" stroke-width="0.08" >30</text>
<text x="0" y="0" transform="translate(101.80 609.00)" font-size="6.8" fill="#548c48" text-anchor="end" stroke="#548c48" stroke-width="0.08" >2</text>
<text x="0" y="0" transform="translate(101.80 615.50)" font-size="6.8" fill="#7a2233" text-anchor="end" stroke="#7a2233" stroke-width="0.08" >30</text>
<text x="0" y="0" transform="translate(101.80 625.50)" font-size="6.8" fill="#7a2233" text-anchor="end" stroke="#7a2233" stroke-width="0.08" >2</text>
<text x="0" y="0" transform="translate(101.80 632.50)" font-size="6.8" fill="#c0302f" text-anchor="end" stroke="#c0302f" stroke-width="0.08" >10</text>
<text x="0" y="0" transform="translate(101.80 642.50)" font-size="6.8" fill="#c0302f" text-anchor="end" stroke="#c0302f" stroke-width="0.08" >1</text>
<text x="0" y="0" transform="translate(101.80 650.00)" font-size="6.8" fill="#333333" text-anchor="end" stroke="#333333" stroke-width="0.08" >10</text>
<text x="0" y="0" transform="translate(101.80 662.50)" font-size="6.8" fill="#333333" text-anchor="end" stroke="#333333" stroke-width="0.08" >1</text>
<text x="0" y="0" transform="translate(449.80 493.30) scale(0.9197 1)" font-size="7.2" fill="#222" text-anchor="middle" stroke="#222" stroke-width="0.08" >Smarca5 binding status</text>
<line x1="405.60" y1="498.20" x2="405.60" y2="642.40" stroke="#111" stroke-width="0.9" />
<line x1="405.20" y1="642.00" x2="493.00" y2="642.00" stroke="#111" stroke-width="0.9" />
<line x1="403.00" y1="635.80" x2="405.60" y2="635.80" stroke="#111" stroke-width="0.8" />
<text x="0" y="0" transform="translate(399.80 638.20)" font-size="6.8" fill="#222" text-anchor="end" stroke="#222" stroke-width="0.08" >0%</text>
<line x1="403.00" y1="603.02" x2="405.60" y2="603.02" stroke="#111" stroke-width="0.8" />
<text x="0" y="0" transform="translate(399.80 605.42)" font-size="6.8" fill="#222" text-anchor="end" stroke="#222" stroke-width="0.08" >25%</text>
<line x1="403.00" y1="570.25" x2="405.60" y2="570.25" stroke="#111" stroke-width="0.8" />
<text x="0" y="0" transform="translate(399.80 572.65)" font-size="6.8" fill="#222" text-anchor="end" stroke="#222" stroke-width="0.08" >50%</text>
<line x1="403.00" y1="537.47" x2="405.60" y2="537.47" stroke="#111" stroke-width="0.8" />
<text x="0" y="0" transform="translate(399.80 539.87)" font-size="6.8" fill="#222" text-anchor="end" stroke="#222" stroke-width="0.08" >75%</text>
<line x1="403.00" y1="504.70" x2="405.60" y2="504.70" stroke="#111" stroke-width="0.8" />
<text x="0" y="0" transform="translate(399.80 507.10)" font-size="6.8" fill="#222" text-anchor="end" stroke="#222" stroke-width="0.08" >100%</text>
<rect x="411.80" y="504.70" width="35.90" height="119.96" fill="#a3002b" />
<rect x="411.80" y="624.66" width="35.90" height="10.09" fill="#6aaa3a" />
<rect x="411.80" y="634.75" width="35.90" height="1.05" fill="#2e4f82" />
<rect x="451.50" y="504.70" width="35.90" height="70.93" fill="#a3002b" />
<rect x="451.50" y="575.63" width="35.90" height="49.69" fill="#6aaa3a" />
<rect x="451.50" y="625.31" width="35.90" height="10.49" fill="#2e4f82" />
<line x1="429.60" y1="642.00" x2="429.60" y2="644.60" stroke="#111" stroke-width="0.8" />
<line x1="469.50" y1="642.00" x2="469.50" y2="644.60" stroke="#111" stroke-width="0.8" />
<text x="0" y="0" transform="translate(378.00 569.65) rotate(-90) scale(0.8025 1)" font-size="8.6" fill="#222" text-anchor="middle" stroke="#222" stroke-width="0.08" >Percentage</text>
<text x="0" y="0" transform="translate(430.10 654.00) scale(0.9702 1)" font-size="6.8" fill="#222" text-anchor="middle" stroke="#222" stroke-width="0.08" >Smarca5</text>
<text x="0" y="0" transform="translate(429.55 661.20) scale(1.0077 1)" font-size="6.8" fill="#222" text-anchor="middle" stroke="#222" stroke-width="0.08" >binding</text>
<text x="0" y="0" transform="translate(469.50 654.00) scale(1.0304 1)" font-size="6.8" fill="#222" text-anchor="middle" stroke="#222" stroke-width="0.08" >Total</text>
<text x="0" y="0" transform="translate(404.50 675.50) scale(0.9581 1)" font-size="6.8" fill="#222" text-anchor="middle" stroke="#222" stroke-width="0.08" >ATAC status</text>
<rect x="396.20" y="678.20" width="6.70" height="6.20" fill="#a3002b" />
<text x="0" y="0" transform="translate(406.10 683.60) scale(0.8862 1)" font-size="6.2" fill="#222" >Accessible both in nascent and fetal HSPCs</text>
<rect x="396.20" y="686.20" width="6.70" height="6.00" fill="#6aaa3a" />
<text x="0" y="0" transform="translate(406.10 691.30) scale(0.8639 1)" font-size="6.2" fill="#222" >Specific accessible in nascent HSPCs</text>
<rect x="396.20" y="693.80" width="6.70" height="6.00" fill="#2e4f82" />
<text x="0" y="0" transform="translate(406.10 698.50) scale(0.8695 1)" font-size="6.2" fill="#222" >Specific accessible in fetal HSPCs</text>
<g fill="#000" shape-rendering="crispEdges"><rect x="0" y="0" width="520" height="1"/><rect x="0" y="0" width="1" height="707"/><rect x="519" y="0" width="1" height="707"/><rect x="0" y="706" width="520" height="1"/></g>
</svg>
</body></html>
